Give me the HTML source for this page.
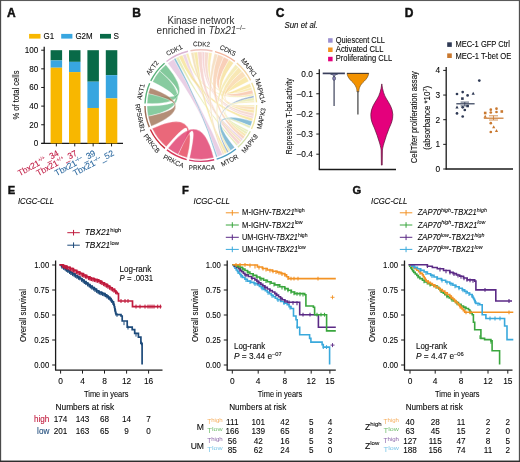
<!DOCTYPE html>
<html><head><meta charset="utf-8"><style>
html,body{margin:0;padding:0;background:#fff;overflow:hidden;width:520px;height:462px;}
svg{display:block;font-family:"Liberation Sans", sans-serif;will-change:transform;}
</style></head><body>
<svg width="520" height="462" viewBox="0 0 520 462">
<rect x="0" y="0" width="520" height="1.05" fill="#5a5a5a"/>
<rect x="0" y="0" width="1.15" height="462" fill="#4a4a4a"/>
<rect x="518.85" y="0" width="1.15" height="462" fill="#505050"/>
<rect x="0" y="460.55" width="520" height="1.45" fill="#2e2e2e"/>
<text x="6.90" y="16.60" font-size="12" fill="#111" font-weight="bold" stroke="#111" stroke-width="0.45">A</text>
<text x="132.20" y="16.60" font-size="12" fill="#111" font-weight="bold" stroke="#111" stroke-width="0.45">B</text>
<text x="275.80" y="16.60" font-size="12" fill="#111" font-weight="bold" stroke="#111" stroke-width="0.45">C</text>
<text x="404.70" y="16.60" font-size="12" fill="#111" font-weight="bold" stroke="#111" stroke-width="0.45">D</text>
<text x="7.70" y="194.00" font-size="11.2" fill="#111" font-weight="bold" stroke="#111" stroke-width="0.4">E</text>
<text x="181.90" y="194.00" font-size="11.2" fill="#111" font-weight="bold" stroke="#111" stroke-width="0.4">F</text>
<text x="352.60" y="194.00" font-size="11.2" fill="#111" font-weight="bold" stroke="#111" stroke-width="0.4">G</text>
<line x1="44.20" y1="46.70" x2="44.20" y2="143.90" stroke="#1a1a1a" stroke-width="1.3" />
<line x1="41.30" y1="143.40" x2="123.00" y2="143.40" stroke="#1a1a1a" stroke-width="1.3" />
<line x1="41.20" y1="143.40" x2="44.20" y2="143.40" stroke="#1a1a1a" stroke-width="1" />
<text x="38.30" y="146.40" font-size="8.4" text-anchor="end" stroke="#222" stroke-width="0.1" textLength="4.53" lengthAdjust="spacingAndGlyphs">0</text>
<line x1="41.20" y1="124.76" x2="44.20" y2="124.76" stroke="#1a1a1a" stroke-width="1" />
<text x="38.30" y="127.76" font-size="8.4" text-anchor="end" stroke="#222" stroke-width="0.1" textLength="9.06" lengthAdjust="spacingAndGlyphs">20</text>
<line x1="41.20" y1="106.12" x2="44.20" y2="106.12" stroke="#1a1a1a" stroke-width="1" />
<text x="38.30" y="109.12" font-size="8.4" text-anchor="end" stroke="#222" stroke-width="0.1" textLength="9.06" lengthAdjust="spacingAndGlyphs">40</text>
<line x1="41.20" y1="87.48" x2="44.20" y2="87.48" stroke="#1a1a1a" stroke-width="1" />
<text x="38.30" y="90.48" font-size="8.4" text-anchor="end" stroke="#222" stroke-width="0.1" textLength="9.06" lengthAdjust="spacingAndGlyphs">60</text>
<line x1="41.20" y1="68.84" x2="44.20" y2="68.84" stroke="#1a1a1a" stroke-width="1" />
<text x="38.30" y="71.84" font-size="8.4" text-anchor="end" stroke="#222" stroke-width="0.1" textLength="9.06" lengthAdjust="spacingAndGlyphs">80</text>
<line x1="41.20" y1="50.20" x2="44.20" y2="50.20" stroke="#1a1a1a" stroke-width="1" />
<text x="38.30" y="53.20" font-size="8.4" text-anchor="end" stroke="#222" stroke-width="0.1" textLength="13.59" lengthAdjust="spacingAndGlyphs">100</text>
<text x="19.00" y="95.00" font-size="9.8" text-anchor="middle" stroke="#222" stroke-width="0.1" textLength="49.00" lengthAdjust="spacingAndGlyphs" transform="rotate(-90 19.00 95.00)">% of total cells</text>
<rect x="50.60" y="50.20" width="11.50" height="10.25" fill="#096a48"/>
<rect x="50.60" y="60.45" width="11.50" height="7.27" fill="#38a6e0"/>
<rect x="50.60" y="67.72" width="11.50" height="75.68" fill="#f8b700"/>
<line x1="56.35" y1="143.40" x2="56.35" y2="146.40" stroke="#1a1a1a" stroke-width="1" />
<rect x="69.00" y="50.20" width="11.50" height="11.65" fill="#096a48"/>
<rect x="69.00" y="61.85" width="11.50" height="10.25" fill="#38a6e0"/>
<rect x="69.00" y="72.10" width="11.50" height="71.30" fill="#f8b700"/>
<line x1="74.75" y1="143.40" x2="74.75" y2="146.40" stroke="#1a1a1a" stroke-width="1" />
<rect x="87.40" y="50.20" width="11.50" height="31.50" fill="#096a48"/>
<rect x="87.40" y="81.70" width="11.50" height="26.28" fill="#38a6e0"/>
<rect x="87.40" y="107.98" width="11.50" height="35.42" fill="#f8b700"/>
<line x1="93.15" y1="143.40" x2="93.15" y2="146.40" stroke="#1a1a1a" stroke-width="1" />
<rect x="105.80" y="50.20" width="11.50" height="24.98" fill="#096a48"/>
<rect x="105.80" y="75.18" width="11.50" height="23.21" fill="#38a6e0"/>
<rect x="105.80" y="98.38" width="11.50" height="45.02" fill="#f8b700"/>
<line x1="111.55" y1="143.40" x2="111.55" y2="146.40" stroke="#1a1a1a" stroke-width="1" />
<rect x="29.10" y="33.90" width="11.40" height="4.70" fill="#f8b700"/>
<text x="43.60" y="38.90" font-size="8.2" stroke="#222" stroke-width="0.1" textLength="10.61" lengthAdjust="spacingAndGlyphs">G1</text>
<rect x="61.20" y="33.90" width="11.20" height="4.70" fill="#38a6e0"/>
<text x="75.40" y="38.90" font-size="8.2" stroke="#222" stroke-width="0.1" textLength="17.24" lengthAdjust="spacingAndGlyphs">G2M</text>
<rect x="100.00" y="33.90" width="11.00" height="4.70" fill="#096a48"/>
<text x="113.50" y="38.90" font-size="8.2" stroke="#222" stroke-width="0.1">S</text>
<text x="59.50" y="155.00" font-size="8.6" text-anchor="end" fill="#c3234a" stroke="#c3234a" stroke-width="0.1" textLength="45.00" lengthAdjust="spacingAndGlyphs" transform="rotate(-28 59.50 155.00)">Tbx21<tspan font-size="5.2" dy="-3.4">+/+</tspan><tspan dy="3.4">_34</tspan></text>
<text x="77.90" y="155.00" font-size="8.6" text-anchor="end" fill="#c3234a" stroke="#c3234a" stroke-width="0.1" textLength="45.00" lengthAdjust="spacingAndGlyphs" transform="rotate(-28 77.90 155.00)">Tbx21<tspan font-size="5.2" dy="-3.4">+/+</tspan><tspan dy="3.4">_37</tspan></text>
<text x="96.30" y="155.00" font-size="8.6" text-anchor="end" fill="#2e6aa0" stroke="#2e6aa0" stroke-width="0.1" textLength="45.00" lengthAdjust="spacingAndGlyphs" transform="rotate(-28 96.30 155.00)">Tbx21<tspan font-size="5.2" dy="-3.4">&#8211;/&#8211;</tspan><tspan dy="3.4">_39</tspan></text>
<text x="114.70" y="155.00" font-size="8.6" text-anchor="end" fill="#2e6aa0" stroke="#2e6aa0" stroke-width="0.1" textLength="45.00" lengthAdjust="spacingAndGlyphs" transform="rotate(-28 114.70 155.00)">Tbx21<tspan font-size="5.2" dy="-3.4">&#8211;/&#8211;</tspan><tspan dy="3.4">_52</tspan></text>
<text x="200.90" y="23.50" font-size="10.3" text-anchor="middle" fill="#303030" textLength="67.00" lengthAdjust="spacingAndGlyphs">Kinase network</text>
<text x="201.00" y="33.90" font-size="10" text-anchor="middle" fill="#303030" textLength="88.90" lengthAdjust="spacingAndGlyphs">enriched in <tspan font-style="italic">Tbx21</tspan><tspan font-size="6.5" dy="-3.8">&#8211;/&#8211;</tspan></text>
<path d="M167.75,63.15 A53.80,53.80 0 0 1 173.84,59.04 Q200.80,105.60 222.68,154.75 A53.80,53.80 0 0 1 217.57,156.72 Q200.80,105.60 167.75,63.15 Z" fill="#e0bcdb" fill-opacity="0.72" stroke="#fff" stroke-opacity="0.7" stroke-width="0.5"/>
<path d="M173.84,59.04 A53.80,53.80 0 0 1 175.68,58.03 Q200.80,105.60 217.57,156.72 A53.80,53.80 0 0 1 216.08,157.18 Q200.80,105.60 173.84,59.04 Z" fill="#5aa5c8" fill-opacity="0.72" stroke="#fff" stroke-opacity="0.7" stroke-width="0.5"/>
<path d="M182.39,55.05 A53.80,53.80 0 0 1 185.88,53.91 Q200.80,105.60 243.05,138.91 A53.80,53.80 0 0 1 241.59,140.68 Q200.80,105.60 182.39,55.05 Z" fill="#e6c6dc" fill-opacity="0.72" stroke="#fff" stroke-opacity="0.7" stroke-width="0.5"/>
<path d="M178.51,56.64 A53.80,53.80 0 0 1 182.39,55.05 Q200.80,105.60 253.07,118.34 A53.80,53.80 0 0 1 252.25,121.32 Q200.80,105.60 178.51,56.64 Z" fill="#f5df8a" fill-opacity="0.72" stroke="#fff" stroke-opacity="0.7" stroke-width="0.5"/>
<path d="M175.68,58.03 A53.80,53.80 0 0 1 178.51,56.64 Q200.80,105.60 237.97,144.50 A53.80,53.80 0 0 1 236.52,145.83 Q200.80,105.60 175.68,58.03 Z" fill="#dfe6a0" fill-opacity="0.72" stroke="#fff" stroke-opacity="0.7" stroke-width="0.5"/>
<path d="M185.88,53.91 A53.80,53.80 0 0 1 188.42,53.24 Q200.80,105.60 253.25,93.64 A53.80,53.80 0 0 1 253.69,95.73 Q200.80,105.60 185.88,53.91 Z" fill="#f3e39a" fill-opacity="0.72" stroke="#fff" stroke-opacity="0.7" stroke-width="0.5"/>
<path d="M197.42,51.91 A53.80,53.80 0 0 1 202.17,51.82 Q200.80,105.60 240.27,142.15 A53.80,53.80 0 0 1 237.97,144.50 Q200.80,105.60 197.42,51.91 Z" fill="#f2c6c2" fill-opacity="0.72" stroke="#fff" stroke-opacity="0.7" stroke-width="0.5"/>
<path d="M193.63,52.28 A53.80,53.80 0 0 1 197.42,51.91 Q200.80,105.60 227.22,152.46 A53.80,53.80 0 0 1 224.45,153.92 Q200.80,105.60 193.63,52.28 Z" fill="#f4e290" fill-opacity="0.72" stroke="#fff" stroke-opacity="0.7" stroke-width="0.5"/>
<path d="M204.55,51.93 A53.80,53.80 0 0 1 208.80,52.40 Q200.80,105.60 254.08,113.03 A53.80,53.80 0 0 1 253.49,116.45 Q200.80,105.60 204.55,51.93 Z" fill="#f3cdbf" fill-opacity="0.72" stroke="#fff" stroke-opacity="0.7" stroke-width="0.5"/>
<path d="M208.80,52.40 A53.80,53.80 0 0 1 212.08,53.00 Q200.80,105.60 251.32,87.10 A53.80,53.80 0 0 1 252.27,89.93 Q200.80,105.60 208.80,52.40 Z" fill="#f6e39a" fill-opacity="0.72" stroke="#fff" stroke-opacity="0.7" stroke-width="0.5"/>
<path d="M190.81,52.74 A53.80,53.80 0 0 1 193.63,52.28 Q200.80,105.60 241.59,140.68 A53.80,53.80 0 0 1 240.27,142.15 Q200.80,105.60 190.81,52.74 Z" fill="#f0d8a8" fill-opacity="0.72" stroke="#fff" stroke-opacity="0.7" stroke-width="0.5"/>
<path d="M202.17,51.82 A53.80,53.80 0 0 1 204.55,51.93 Q200.80,105.60 253.49,116.45 A53.80,53.80 0 0 1 253.07,118.34 Q200.80,105.60 202.17,51.82 Z" fill="#f1c3c8" fill-opacity="0.72" stroke="#fff" stroke-opacity="0.7" stroke-width="0.5"/>
<path d="M223.57,56.86 A53.80,53.80 0 0 1 229.06,59.82 Q200.80,105.60 252.27,89.93 A53.80,53.80 0 0 1 253.25,93.64 Q200.80,105.60 223.57,56.86 Z" fill="#f6bc9c" fill-opacity="0.72" stroke="#fff" stroke-opacity="0.7" stroke-width="0.5"/>
<path d="M229.06,59.82 A53.80,53.80 0 0 1 233.63,62.97 Q200.80,105.60 254.42,109.96 A53.80,53.80 0 0 1 254.08,113.03 Q200.80,105.60 229.06,59.82 Z" fill="#f5dc8e" fill-opacity="0.72" stroke="#fff" stroke-opacity="0.7" stroke-width="0.5"/>
<path d="M217.78,54.55 A53.80,53.80 0 0 1 223.57,56.86 Q200.80,105.60 244.82,136.54 A53.80,53.80 0 0 1 243.05,138.91 Q200.80,105.60 217.78,54.55 Z" fill="#f7c9a6" fill-opacity="0.72" stroke="#fff" stroke-opacity="0.7" stroke-width="0.5"/>
<path d="M214.45,53.56 A53.80,53.80 0 0 1 217.78,54.55 Q200.80,105.60 224.45,153.92 A53.80,53.80 0 0 1 222.68,154.75 Q200.80,105.60 214.45,53.56 Z" fill="#f2d6b0" fill-opacity="0.72" stroke="#fff" stroke-opacity="0.7" stroke-width="0.5"/>
<path d="M245.78,76.09 A53.80,53.80 0 0 1 248.82,81.34 Q200.80,105.60 249.87,83.55 A53.80,53.80 0 0 1 251.32,87.10 Q200.80,105.60 245.78,76.09 Z" fill="#f6e08e" fill-opacity="0.72" stroke="#fff" stroke-opacity="0.7" stroke-width="0.5"/>
<path d="M242.17,71.21 A53.80,53.80 0 0 1 245.78,76.09 Q200.80,105.60 254.59,106.49 A53.80,53.80 0 0 1 254.42,109.96 Q200.80,105.60 242.17,71.21 Z" fill="#f8d3a0" fill-opacity="0.72" stroke="#fff" stroke-opacity="0.7" stroke-width="0.5"/>
<path d="M238.52,67.24 A53.80,53.80 0 0 1 242.17,71.21 Q200.80,105.60 246.28,134.35 A53.80,53.80 0 0 1 244.82,136.54 Q200.80,105.60 238.52,67.24 Z" fill="#f5df98" fill-opacity="0.72" stroke="#fff" stroke-opacity="0.7" stroke-width="0.5"/>
<path d="M235.53,64.51 A53.80,53.80 0 0 1 238.52,67.24 Q200.80,105.60 230.56,150.42 A53.80,53.80 0 0 1 228.58,151.68 Q200.80,105.60 235.53,64.51 Z" fill="#f3e6a0" fill-opacity="0.72" stroke="#fff" stroke-opacity="0.7" stroke-width="0.5"/>
<path d="M253.97,97.41 A53.80,53.80 0 0 1 254.39,100.80 Q200.80,105.60 247.63,132.09 A53.80,53.80 0 0 1 246.28,134.35 Q200.80,105.60 253.97,97.41 Z" fill="#e4e8a2" fill-opacity="0.72" stroke="#fff" stroke-opacity="0.7" stroke-width="0.5"/>
<path d="M253.69,95.73 A53.80,53.80 0 0 1 253.97,97.41 Q200.80,105.60 228.58,151.68 A53.80,53.80 0 0 1 227.22,152.46 Q200.80,105.60 253.69,95.73 Z" fill="#6a8fb8" fill-opacity="0.72" stroke="#fff" stroke-opacity="0.7" stroke-width="0.5"/>
<path d="M252.25,121.32 A53.80,53.80 0 0 1 250.56,126.04 Q200.80,105.60 234.66,147.41 A53.80,53.80 0 0 1 230.56,150.42 Q200.80,105.60 252.25,121.32 Z" fill="#5aa5c8" fill-opacity="0.72" stroke="#fff" stroke-opacity="0.7" stroke-width="0.5"/>
<path d="M250.56,126.04 A53.80,53.80 0 0 1 249.64,128.17 Q200.80,105.60 248.56,130.36 A53.80,53.80 0 0 1 247.63,132.09 Q200.80,105.60 250.56,126.04 Z" fill="#dfe8a8" fill-opacity="0.72" stroke="#fff" stroke-opacity="0.7" stroke-width="0.5"/>
<path d="M254.39,100.80 A53.80,53.80 0 0 1 254.51,102.50 Q200.80,105.60 254.60,104.94 A53.80,53.80 0 0 1 254.59,106.49 Q200.80,105.60 254.39,100.80 Z" fill="#f2e6a4" fill-opacity="0.72" stroke="#fff" stroke-opacity="0.7" stroke-width="0.5"/>
<path d="M152.57,81.76 A53.80,53.80 0 0 1 159.72,70.86 Q200.80,105.60 148.09,116.37 A53.80,53.80 0 0 1 147.00,105.98 Q200.80,105.60 152.57,81.76 Z" fill="#73c28f" fill-opacity="0.85" stroke="#fff" stroke-opacity="0.7" stroke-width="0.5"/>
<path d="M159.72,70.86 A53.80,53.80 0 0 1 165.86,64.69 Q200.80,105.60 147.04,103.53 A53.80,53.80 0 0 1 148.37,93.54 Q200.80,105.60 159.72,70.86 Z" fill="#6dbf8b" fill-opacity="0.85" stroke="#fff" stroke-opacity="0.7" stroke-width="0.5"/>
<path d="M151.17,126.36 A53.80,53.80 0 0 1 148.09,116.37 Q200.80,105.60 148.37,93.54 A53.80,53.80 0 0 1 150.05,87.73 Q200.80,105.60 151.17,126.36 Z" fill="#a67a5f" fill-opacity="0.85" stroke="#fff" stroke-opacity="0.7" stroke-width="0.5"/>
<path d="M166.22,146.81 A53.80,53.80 0 0 1 152.16,128.59 Q200.80,105.60 187.15,157.64 A53.80,53.80 0 0 1 178.14,154.39 Q200.80,105.60 166.22,146.81 Z" fill="#e8586b" fill-opacity="0.9" stroke="#fff" stroke-opacity="0.7" stroke-width="0.5"/>
<path d="M178.14,154.39 A53.80,53.80 0 0 1 168.12,148.34 Q200.80,105.60 213.72,157.82 A53.80,53.80 0 0 1 189.52,158.20 Q200.80,105.60 178.14,154.39 Z" fill="#e34b78" fill-opacity="0.88" stroke="#fff" stroke-opacity="0.7" stroke-width="0.5"/>
<path d="M166.52,61.57 A55.8,55.8 0 0 1 187.96,51.30" fill="none" stroke="#dcb5d3" stroke-width="1.4"/>
<path d="M190.44,50.77 A55.8,55.8 0 0 1 212.50,51.04" fill="none" stroke="#efc3bd" stroke-width="1.4"/>
<path d="M214.96,51.63 A55.8,55.8 0 0 1 234.85,61.39" fill="none" stroke="#f3b79e" stroke-width="1.4"/>
<path d="M236.82,62.98 A55.8,55.8 0 0 1 250.61,80.44" fill="none" stroke="#f3d5a5" stroke-width="1.4"/>
<path d="M251.70,82.73 A55.8,55.8 0 0 1 256.51,102.39" fill="none" stroke="#efe1a0" stroke-width="1.4"/>
<path d="M256.60,104.92 A55.8,55.8 0 0 1 251.45,129.01" fill="none" stroke="#efe6a5" stroke-width="1.4"/>
<path d="M250.34,131.28 A55.8,55.8 0 0 1 237.85,147.33" fill="none" stroke="#d5e2ad" stroke-width="1.4"/>
<path d="M235.92,148.96 A55.8,55.8 0 0 1 216.65,159.10" fill="none" stroke="#4f9fc2" stroke-width="1.4"/>
<path d="M214.20,159.77 A55.8,55.8 0 0 1 189.10,160.16" fill="none" stroke="#d23e6c" stroke-width="1.4"/>
<path d="M186.64,159.57 A55.8,55.8 0 0 1 166.91,149.93" fill="none" stroke="#d8385a" stroke-width="1.4"/>
<path d="M164.93,148.35 A55.8,55.8 0 0 1 150.35,129.45" fill="none" stroke="#c8303f" stroke-width="1.4"/>
<path d="M149.32,127.13 A55.8,55.8 0 0 1 145.00,105.99" fill="none" stroke="#9c6e57" stroke-width="1.4"/>
<path d="M145.04,103.46 A55.8,55.8 0 0 1 149.71,83.17" fill="none" stroke="#5bb27c" stroke-width="1.4"/>
<path d="M150.78,80.88 A55.8,55.8 0 0 1 164.56,63.17" fill="none" stroke="#5bb27c" stroke-width="1.4"/>
<text x="175.22" y="52.21" font-size="6.7" text-anchor="middle" fill="#2a2a2a" stroke="#2a2a2a" stroke-width="0.1" textLength="16.98" lengthAdjust="spacingAndGlyphs" transform="rotate(-25.600000000000023 175.22 52.21)">CDK1</text>
<text x="201.52" y="46.40" font-size="6.7" text-anchor="middle" fill="#2a2a2a" stroke="#2a2a2a" stroke-width="0.1" textLength="16.98" lengthAdjust="spacingAndGlyphs" transform="rotate(0.6999999999999886 201.52 46.40)">CDK2</text>
<text x="226.89" y="52.46" font-size="6.7" text-anchor="middle" fill="#2a2a2a" stroke="#2a2a2a" stroke-width="0.1" textLength="16.98" lengthAdjust="spacingAndGlyphs" transform="rotate(26.149999999999977 226.89 52.46)">CDK5</text>
<text x="247.26" y="68.91" font-size="6.7" text-anchor="middle" fill="#2a2a2a" stroke="#2a2a2a" stroke-width="0.1" textLength="21.58" lengthAdjust="spacingAndGlyphs" transform="rotate(51.69999999999999 247.26 68.91)">MAPK1</text>
<text x="258.30" y="91.53" font-size="6.7" text-anchor="middle" fill="#2a2a2a" stroke="#2a2a2a" stroke-width="0.1" textLength="25.12" lengthAdjust="spacingAndGlyphs" transform="rotate(76.25 258.30 91.53)">MAPK14</text>
<text x="263.59" y="119.00" font-size="6.7" text-anchor="middle" fill="#2a2a2a" stroke="#2a2a2a" stroke-width="0.1" textLength="21.58" lengthAdjust="spacingAndGlyphs" transform="rotate(-77.94999999999999 263.59 119.00)">MAPK3</text>
<text x="251.46" y="145.04" font-size="6.7" text-anchor="middle" fill="#2a2a2a" stroke="#2a2a2a" stroke-width="0.1" textLength="21.58" lengthAdjust="spacingAndGlyphs" transform="rotate(-52.10000000000002 251.46 145.04)">MAPK8</text>
<text x="230.69" y="162.42" font-size="6.7" text-anchor="middle" fill="#2a2a2a" stroke="#2a2a2a" stroke-width="0.1" textLength="18.62" lengthAdjust="spacingAndGlyphs" transform="rotate(-27.75 230.69 162.42)">MTOR</text>
<text x="201.81" y="169.79" font-size="6.7" text-anchor="middle" fill="#2a2a2a" stroke="#2a2a2a" stroke-width="0.1" textLength="26.18" lengthAdjust="spacingAndGlyphs" transform="rotate(-0.900000000000091 201.81 169.79)">PRKACA</text>
<text x="172.61" y="163.28" font-size="6.7" text-anchor="middle" fill="#2a2a2a" stroke="#2a2a2a" stroke-width="0.1" textLength="21.93" lengthAdjust="spacingAndGlyphs" transform="rotate(26.049999999999955 172.61 163.28)">PRKCA</text>
<text x="149.97" y="144.82" font-size="6.7" text-anchor="middle" fill="#2a2a2a" stroke="#2a2a2a" stroke-width="0.1" textLength="21.93" lengthAdjust="spacingAndGlyphs" transform="rotate(52.35000000000002 149.97 144.82)">PRKCB</text>
<text x="137.90" y="118.45" font-size="6.7" text-anchor="middle" fill="#2a2a2a" stroke="#2a2a2a" stroke-width="0.1" textLength="28.66" lengthAdjust="spacingAndGlyphs" transform="rotate(78.45000000000005 137.90 118.45)">RPS6KB1</text>
<text x="143.11" y="92.33" font-size="6.7" text-anchor="middle" fill="#2a2a2a" stroke="#2a2a2a" stroke-width="0.1" textLength="15.92" lengthAdjust="spacingAndGlyphs" transform="rotate(-77.04999999999995 143.11 92.33)">AKT1</text>
<text x="154.09" y="69.23" font-size="6.7" text-anchor="middle" fill="#2a2a2a" stroke="#2a2a2a" stroke-width="0.1" textLength="15.92" lengthAdjust="spacingAndGlyphs" transform="rotate(-52.10000000000002 154.09 69.23)">AKT2</text>
<text x="284.50" y="28.00" font-size="8.2" stroke="#222" stroke-width="0.1" font-style="italic" textLength="33.20" lengthAdjust="spacingAndGlyphs">Sun et al.</text>
<rect x="328.10" y="38.20" width="4.50" height="4.50" fill="#9b8fcf"/>
<text x="335.80" y="42.70" font-size="8.2" stroke="#222" stroke-width="0.1" textLength="49.20" lengthAdjust="spacingAndGlyphs">Quiescent CLL</text>
<rect x="328.10" y="47.50" width="4.50" height="4.50" fill="#f39320"/>
<text x="335.80" y="52.00" font-size="8.2" stroke="#222" stroke-width="0.1" textLength="47.70" lengthAdjust="spacingAndGlyphs">Activated CLL</text>
<rect x="328.10" y="56.80" width="4.50" height="4.50" fill="#e4007c"/>
<text x="335.80" y="61.30" font-size="8.2" stroke="#222" stroke-width="0.1" textLength="56.30" lengthAdjust="spacingAndGlyphs">Proliferating CLL</text>
<line x1="319.30" y1="69.20" x2="319.30" y2="169.50" stroke="#1a1a1a" stroke-width="1.3" />
<line x1="318.80" y1="169.50" x2="396.00" y2="169.50" stroke="#1a1a1a" stroke-width="1.3" />
<line x1="316.30" y1="73.60" x2="319.30" y2="73.60" stroke="#1a1a1a" stroke-width="1" />
<text x="312.90" y="76.60" font-size="8.3" text-anchor="end" stroke="#222" stroke-width="0.1">0.0</text>
<line x1="316.30" y1="93.75" x2="319.30" y2="93.75" stroke="#1a1a1a" stroke-width="1" />
<text x="312.90" y="96.75" font-size="8.3" text-anchor="end" stroke="#222" stroke-width="0.1">&#8211;0.1</text>
<line x1="316.30" y1="113.90" x2="319.30" y2="113.90" stroke="#1a1a1a" stroke-width="1" />
<text x="312.90" y="116.90" font-size="8.3" text-anchor="end" stroke="#222" stroke-width="0.1">&#8211;0.2</text>
<line x1="316.30" y1="134.05" x2="319.30" y2="134.05" stroke="#1a1a1a" stroke-width="1" />
<text x="312.90" y="137.05" font-size="8.3" text-anchor="end" stroke="#222" stroke-width="0.1">&#8211;0.3</text>
<line x1="316.30" y1="154.20" x2="319.30" y2="154.20" stroke="#1a1a1a" stroke-width="1" />
<text x="312.90" y="157.20" font-size="8.3" text-anchor="end" stroke="#222" stroke-width="0.1">&#8211;0.4</text>
<text x="292.20" y="116.30" font-size="8.3" text-anchor="middle" stroke="#222" stroke-width="0.1" textLength="76.00" lengthAdjust="spacingAndGlyphs" transform="rotate(-90 292.20 116.30)">Repressive T-bet activity</text>
<path d="M322.7,73.4 L344.9,73.4" fill="none" stroke="#3a3f5c" stroke-width="1.7" />
<path d="M330.5,74 Q334.1,74.6 334.1,77 Q334.1,74.6 337.7,74 Z" fill="#8c84b8" stroke="#3d4560" stroke-width="0.7" />
<path d="M334.1,76 L334.1,105.9" fill="none" stroke="#585c72" stroke-width="1.4" />
<ellipse cx="334.1" cy="78.4" rx="1.4" ry="2.0" fill="#8c84b8" stroke="#3d4560" stroke-width="0.7"/>
<path d="M347,73.4 L368.7,73.4 C368.3,76.5 366.5,79 364.4,81 C362.3,83 360.5,85 359.6,87.5 C359.1,89 358.9,90 358.8,92 L357.0,92 C356.9,90 356.7,89 356.2,87.5 C355.3,85 353.5,83 351.4,81 C349.3,79 347.4,76.5 347,73.4 Z" fill="#f39200" stroke="#6a4a20" stroke-width="0.6" />
<path d="M347,73.4 L368.7,73.4" fill="none" stroke="#4a3a2a" stroke-width="1.0" />
<path d="M357.9,91 L357.9,114.5" fill="none" stroke="#5a5a5a" stroke-width="1.4" />
<path d="M381.8,83.9 C382.5,90 384,95 386.5,99 C389,103 392.5,108 392.8,114.4 C393,120 391,124 389.2,128 C387.2,133 385.5,138 384,143 C383,146.5 382.6,148.5 382.4,150 L382.2,165.1 L381.4,165.1 L381.2,150 C381,148.5 380.6,146.5 379.6,143 C378.1,138 376.4,133 374.4,128 C372.6,124 370.6,120 370.8,114.4 C371.1,108 374.6,103 377.1,99 C379.6,95 381.1,90 381.8,83.9 Z" fill="#e4007c" stroke="#5a1035" stroke-width="0.7" />
<rect x="447.20" y="42.30" width="4.60" height="4.60" fill="#2f3a55"/>
<text x="455.40" y="47.40" font-size="8.2" stroke="#222" stroke-width="0.1" textLength="54.60" lengthAdjust="spacingAndGlyphs">MEC-1 GFP Ctrl</text>
<rect x="447.20" y="53.40" width="4.60" height="4.60" fill="#c9782f"/>
<text x="455.40" y="58.50" font-size="8.2" stroke="#222" stroke-width="0.1" textLength="55.80" lengthAdjust="spacingAndGlyphs">MEC-1 T-bet OE</text>
<line x1="446.20" y1="67.00" x2="446.20" y2="169.50" stroke="#1a1a1a" stroke-width="1.3" />
<line x1="445.70" y1="169.00" x2="513.00" y2="169.00" stroke="#1a1a1a" stroke-width="1.3" />
<line x1="443.20" y1="169.00" x2="446.20" y2="169.00" stroke="#1a1a1a" stroke-width="1" />
<text x="440.20" y="172.00" font-size="8.3" text-anchor="end" stroke="#222" stroke-width="0.1">0</text>
<line x1="443.20" y1="144.35" x2="446.20" y2="144.35" stroke="#1a1a1a" stroke-width="1" />
<text x="440.20" y="147.35" font-size="8.3" text-anchor="end" stroke="#222" stroke-width="0.1">1</text>
<line x1="443.20" y1="119.70" x2="446.20" y2="119.70" stroke="#1a1a1a" stroke-width="1" />
<text x="440.20" y="122.70" font-size="8.3" text-anchor="end" stroke="#222" stroke-width="0.1">2</text>
<line x1="443.20" y1="95.05" x2="446.20" y2="95.05" stroke="#1a1a1a" stroke-width="1" />
<text x="440.20" y="98.05" font-size="8.3" text-anchor="end" stroke="#222" stroke-width="0.1">3</text>
<line x1="443.20" y1="70.40" x2="446.20" y2="70.40" stroke="#1a1a1a" stroke-width="1" />
<text x="440.20" y="73.40" font-size="8.3" text-anchor="end" stroke="#222" stroke-width="0.1">4</text>
<text x="416.60" y="117.30" font-size="8.3" text-anchor="middle" stroke="#222" stroke-width="0.1" textLength="92.00" lengthAdjust="spacingAndGlyphs" transform="rotate(-90 416.60 117.30)">CellTiter proliferation assay</text>
<text x="430.00" y="117.80" font-size="8.3" text-anchor="middle" stroke="#222" stroke-width="0.1" textLength="64.00" lengthAdjust="spacingAndGlyphs" transform="rotate(-90 430.00 117.80)">(absorbance *10<tspan font-size="5.8" dy="-3.2">7</tspan><tspan dy="3.2">)</tspan></text>
<circle cx="479.3" cy="80.6" r="1.35" fill="#2f3a55"/>
<circle cx="457" cy="94" r="1.35" fill="#2f3a55"/>
<circle cx="462.7" cy="92.1" r="1.35" fill="#2f3a55"/>
<circle cx="467.6" cy="95.4" r="1.35" fill="#2f3a55"/>
<path d="M473.2,91.8 L474.8,94.7 L471.59999999999997,94.7 Z" fill="#2f3a55"/>
<rect x="461.09999999999997" y="97.3" width="2.6" height="2.6" fill="#2f3a55"/>
<path d="M457,105.6 L458.6,108.5 L455.4,108.5 Z" fill="#2f3a55"/>
<circle cx="462.7" cy="107.3" r="1.35" fill="#2f3a55"/>
<rect x="466.3" y="104.7" width="2.6" height="2.6" fill="#2f3a55"/>
<circle cx="464.8" cy="110" r="1.35" fill="#2f3a55"/>
<circle cx="457" cy="113.4" r="1.35" fill="#2f3a55"/>
<circle cx="462.7" cy="116.5" r="1.35" fill="#2f3a55"/>
<line x1="456.30" y1="103.80" x2="474.60" y2="103.80" stroke="#2f3a55" stroke-width="1.2" />
<line x1="460.60" y1="102.10" x2="469.00" y2="102.10" stroke="#2f3a55" stroke-width="0.8" />
<line x1="460.60" y1="105.90" x2="469.00" y2="105.90" stroke="#2f3a55" stroke-width="0.8" />
<line x1="464.80" y1="102.10" x2="464.80" y2="105.90" stroke="#2f3a55" stroke-width="0.8" />
<circle cx="490.8" cy="109.7" r="1.35" fill="#c9782f"/>
<circle cx="496.5" cy="108.7" r="1.35" fill="#c9782f"/>
<rect x="483.9" y="111.7" width="2.6" height="2.6" fill="#c9782f"/>
<circle cx="490.8" cy="112.5" r="1.35" fill="#c9782f"/>
<circle cx="496.5" cy="112" r="1.35" fill="#c9782f"/>
<rect x="500.5" y="110.2" width="2.6" height="2.6" fill="#c9782f"/>
<path d="M485.2,114.8 L486.8,117.7 L483.59999999999997,117.7 Z" fill="#c9782f"/>
<circle cx="490.8" cy="123.2" r="1.35" fill="#c9782f"/>
<path d="M493.7,125.3 L495.3,128.2 L492.09999999999997,128.2 Z" fill="#c9782f"/>
<circle cx="490.8" cy="132" r="1.35" fill="#c9782f"/>
<path d="M496.5,129.10000000000002 L498.1,132.0 L494.9,132.0 Z" fill="#c9782f"/>
<line x1="483.80" y1="118.20" x2="503.50" y2="118.20" stroke="#c9782f" stroke-width="1.2" />
<line x1="489.00" y1="115.80" x2="498.00" y2="115.80" stroke="#c9782f" stroke-width="0.8" />
<line x1="489.00" y1="120.00" x2="498.00" y2="120.00" stroke="#c9782f" stroke-width="0.8" />
<line x1="493.50" y1="115.80" x2="493.50" y2="120.00" stroke="#c9782f" stroke-width="0.8" />
<text x="17.90" y="203.90" font-size="8.2" stroke="#222" stroke-width="0.1" font-style="italic" textLength="36.30" lengthAdjust="spacingAndGlyphs">ICGC-CLL</text>
<line x1="67.30" y1="232.70" x2="79.80" y2="232.70" stroke="#c01b3d" stroke-width="1.0" />
<line x1="73.55" y1="229.90" x2="73.55" y2="235.50" stroke="#c01b3d" stroke-width="1.0" />
<text x="84.80" y="235.30" font-size="8.3" stroke="#222" stroke-width="0.1"><tspan font-style="italic">TBX21</tspan><tspan font-size="5.8" dy="-3.2">high</tspan></text>
<line x1="67.30" y1="245.20" x2="79.80" y2="245.20" stroke="#1d4a7a" stroke-width="1.0" />
<line x1="73.55" y1="242.40" x2="73.55" y2="248.00" stroke="#1d4a7a" stroke-width="1.0" />
<text x="84.80" y="247.80" font-size="8.3" stroke="#222" stroke-width="0.1"><tspan font-style="italic">TBX21</tspan><tspan font-size="5.8" dy="-3.2">low</tspan></text>
<line x1="55.60" y1="260.50" x2="55.60" y2="370.20" stroke="#1a1a1a" stroke-width="1.3" />
<line x1="55.10" y1="370.20" x2="162.50" y2="370.20" stroke="#1a1a1a" stroke-width="1.3" />
<line x1="52.20" y1="265.00" x2="55.60" y2="265.00" stroke="#1a1a1a" stroke-width="1" />
<text x="49.20" y="268.00" font-size="8.4" text-anchor="end" stroke="#222" stroke-width="0.1" textLength="15.00" lengthAdjust="spacingAndGlyphs">1.00</text>
<line x1="52.20" y1="290.00" x2="55.60" y2="290.00" stroke="#1a1a1a" stroke-width="1" />
<text x="49.20" y="293.00" font-size="8.4" text-anchor="end" stroke="#222" stroke-width="0.1" textLength="15.00" lengthAdjust="spacingAndGlyphs">0.75</text>
<line x1="52.20" y1="315.00" x2="55.60" y2="315.00" stroke="#1a1a1a" stroke-width="1" />
<text x="49.20" y="318.00" font-size="8.4" text-anchor="end" stroke="#222" stroke-width="0.1" textLength="15.00" lengthAdjust="spacingAndGlyphs">0.50</text>
<line x1="52.20" y1="340.00" x2="55.60" y2="340.00" stroke="#1a1a1a" stroke-width="1" />
<text x="49.20" y="343.00" font-size="8.4" text-anchor="end" stroke="#222" stroke-width="0.1" textLength="15.00" lengthAdjust="spacingAndGlyphs">0.25</text>
<line x1="52.20" y1="365.00" x2="55.60" y2="365.00" stroke="#1a1a1a" stroke-width="1" />
<text x="49.20" y="368.00" font-size="8.4" text-anchor="end" stroke="#222" stroke-width="0.1" textLength="15.00" lengthAdjust="spacingAndGlyphs">0.00</text>
<line x1="60.60" y1="370.20" x2="60.60" y2="373.60" stroke="#1a1a1a" stroke-width="1" />
<text x="60.60" y="383.50" font-size="8.4" text-anchor="middle" stroke="#222" stroke-width="0.1">0</text>
<line x1="82.50" y1="370.20" x2="82.50" y2="373.60" stroke="#1a1a1a" stroke-width="1" />
<text x="82.50" y="383.50" font-size="8.4" text-anchor="middle" stroke="#222" stroke-width="0.1">4</text>
<line x1="104.50" y1="370.20" x2="104.50" y2="373.60" stroke="#1a1a1a" stroke-width="1" />
<text x="104.50" y="383.50" font-size="8.4" text-anchor="middle" stroke="#222" stroke-width="0.1">8</text>
<line x1="126.60" y1="370.20" x2="126.60" y2="373.60" stroke="#1a1a1a" stroke-width="1" />
<text x="126.60" y="383.50" font-size="8.4" text-anchor="middle" stroke="#222" stroke-width="0.1">12</text>
<line x1="148.60" y1="370.20" x2="148.60" y2="373.60" stroke="#1a1a1a" stroke-width="1" />
<text x="148.60" y="383.50" font-size="8.4" text-anchor="middle" stroke="#222" stroke-width="0.1">16</text>
<text x="26.50" y="315.60" font-size="8.4" text-anchor="middle" stroke="#222" stroke-width="0.1" textLength="53.00" lengthAdjust="spacingAndGlyphs" transform="rotate(-90 26.50 315.60)">Overall survival</text>
<text x="119.60" y="271.50" font-size="8.3" stroke="#222" stroke-width="0.1" textLength="31.70" lengthAdjust="spacingAndGlyphs">Log-rank</text>
<text x="119.60" y="280.80" font-size="8.6" stroke="#222" stroke-width="0.1" textLength="33.50" lengthAdjust="spacingAndGlyphs"><tspan font-style="italic">P</tspan> = .0031</text>
<path d="M59.50,264.80 H61.60 V266.32 H63.70 V267.84 H65.80 V269.36 H67.90 V270.88 H70.00 V272.40 H72.50 V273.95 H75.00 V275.50 H77.50 V277.05 H80.00 V278.60 H81.98 V280.10 H83.96 V281.60 H85.94 V283.10 H87.92 V284.60 H89.90 V286.10 H92.08 V287.65 H94.25 V289.20 H96.42 V290.75 H98.60 V292.30 H101.70 V293.55 H104.80 V294.80 H106.47 V296.07 H108.13 V297.33 H109.80 V298.60 H111.03 V300.23 H112.27 V301.87 H113.50 V303.50 H113.90 V305.17 H114.30 V306.83 H114.70 V308.50 H115.03 V310.05 H115.35 V311.60 H115.67 V313.15 H116.00 V314.70 H121.00 V316.00 H122.20 V321.00 H127.20 V327.20 H132.20 V329.70 H134.70 V333.40 H138.40 V337.10 H140.90 V343.40 L142.10,343.40 L142.10,364.50" fill="none" stroke="#1d4a7a" stroke-width="1.7" stroke-linejoin="miter"/>
<line x1="62.00" y1="264.71" x2="62.00" y2="268.51" stroke="#1d4a7a" stroke-width="1.0" />
<line x1="63.50" y1="265.80" x2="63.50" y2="269.60" stroke="#1d4a7a" stroke-width="1.0" />
<line x1="65.00" y1="266.88" x2="65.00" y2="270.68" stroke="#1d4a7a" stroke-width="1.0" />
<line x1="66.50" y1="267.97" x2="66.50" y2="271.77" stroke="#1d4a7a" stroke-width="1.0" />
<line x1="68.00" y1="269.05" x2="68.00" y2="272.85" stroke="#1d4a7a" stroke-width="1.0" />
<line x1="69.50" y1="270.14" x2="69.50" y2="273.94" stroke="#1d4a7a" stroke-width="1.0" />
<line x1="71.00" y1="271.12" x2="71.00" y2="274.92" stroke="#1d4a7a" stroke-width="1.0" />
<line x1="72.50" y1="272.05" x2="72.50" y2="275.85" stroke="#1d4a7a" stroke-width="1.0" />
<line x1="74.00" y1="272.98" x2="74.00" y2="276.78" stroke="#1d4a7a" stroke-width="1.0" />
<line x1="75.50" y1="273.91" x2="75.50" y2="277.71" stroke="#1d4a7a" stroke-width="1.0" />
<line x1="77.00" y1="274.84" x2="77.00" y2="278.64" stroke="#1d4a7a" stroke-width="1.0" />
<line x1="78.50" y1="275.77" x2="78.50" y2="279.57" stroke="#1d4a7a" stroke-width="1.0" />
<line x1="80.00" y1="276.70" x2="80.00" y2="280.50" stroke="#1d4a7a" stroke-width="1.0" />
<line x1="81.50" y1="277.84" x2="81.50" y2="281.64" stroke="#1d4a7a" stroke-width="1.0" />
<line x1="83.00" y1="278.97" x2="83.00" y2="282.77" stroke="#1d4a7a" stroke-width="1.0" />
<line x1="84.50" y1="280.11" x2="84.50" y2="283.91" stroke="#1d4a7a" stroke-width="1.0" />
<line x1="86.00" y1="281.25" x2="86.00" y2="285.05" stroke="#1d4a7a" stroke-width="1.0" />
<line x1="87.50" y1="282.38" x2="87.50" y2="286.18" stroke="#1d4a7a" stroke-width="1.0" />
<line x1="89.00" y1="283.52" x2="89.00" y2="287.32" stroke="#1d4a7a" stroke-width="1.0" />
<line x1="90.50" y1="284.63" x2="90.50" y2="288.43" stroke="#1d4a7a" stroke-width="1.0" />
<line x1="92.00" y1="285.70" x2="92.00" y2="289.50" stroke="#1d4a7a" stroke-width="1.0" />
<line x1="93.50" y1="286.77" x2="93.50" y2="290.57" stroke="#1d4a7a" stroke-width="1.0" />
<line x1="95.00" y1="287.83" x2="95.00" y2="291.63" stroke="#1d4a7a" stroke-width="1.0" />
<line x1="96.50" y1="288.90" x2="96.50" y2="292.70" stroke="#1d4a7a" stroke-width="1.0" />
<line x1="98.00" y1="289.97" x2="98.00" y2="293.77" stroke="#1d4a7a" stroke-width="1.0" />
<line x1="99.50" y1="290.76" x2="99.50" y2="294.56" stroke="#1d4a7a" stroke-width="1.0" />
<line x1="101.00" y1="291.37" x2="101.00" y2="295.17" stroke="#1d4a7a" stroke-width="1.0" />
<line x1="102.50" y1="291.97" x2="102.50" y2="295.77" stroke="#1d4a7a" stroke-width="1.0" />
<line x1="104.00" y1="292.58" x2="104.00" y2="296.38" stroke="#1d4a7a" stroke-width="1.0" />
<line x1="105.50" y1="293.43" x2="105.50" y2="297.23" stroke="#1d4a7a" stroke-width="1.0" />
<line x1="107.00" y1="294.57" x2="107.00" y2="298.37" stroke="#1d4a7a" stroke-width="1.0" />
<line x1="108.50" y1="295.71" x2="108.50" y2="299.51" stroke="#1d4a7a" stroke-width="1.0" />
<line x1="110.00" y1="296.96" x2="110.00" y2="300.76" stroke="#1d4a7a" stroke-width="1.0" />
<line x1="111.50" y1="298.95" x2="111.50" y2="302.75" stroke="#1d4a7a" stroke-width="1.0" />
<line x1="113.00" y1="300.94" x2="113.00" y2="304.74" stroke="#1d4a7a" stroke-width="1.0" />
<line x1="114.50" y1="305.77" x2="114.50" y2="309.57" stroke="#1d4a7a" stroke-width="1.0" />
<line x1="62.00" y1="264.71" x2="62.00" y2="268.51" stroke="#1d4a7a" stroke-width="1.0" />
<line x1="64.00" y1="266.16" x2="64.00" y2="269.96" stroke="#1d4a7a" stroke-width="1.0" />
<line x1="66.00" y1="267.60" x2="66.00" y2="271.40" stroke="#1d4a7a" stroke-width="1.0" />
<line x1="68.00" y1="269.05" x2="68.00" y2="272.85" stroke="#1d4a7a" stroke-width="1.0" />
<line x1="71.00" y1="271.12" x2="71.00" y2="274.92" stroke="#1d4a7a" stroke-width="1.0" />
<line x1="73.00" y1="272.36" x2="73.00" y2="276.16" stroke="#1d4a7a" stroke-width="1.0" />
<line x1="75.00" y1="273.60" x2="75.00" y2="277.40" stroke="#1d4a7a" stroke-width="1.0" />
<line x1="77.00" y1="274.84" x2="77.00" y2="278.64" stroke="#1d4a7a" stroke-width="1.0" />
<line x1="79.00" y1="276.08" x2="79.00" y2="279.88" stroke="#1d4a7a" stroke-width="1.0" />
<line x1="82.00" y1="278.22" x2="82.00" y2="282.02" stroke="#1d4a7a" stroke-width="1.0" />
<line x1="84.00" y1="279.73" x2="84.00" y2="283.53" stroke="#1d4a7a" stroke-width="1.0" />
<line x1="86.00" y1="281.25" x2="86.00" y2="285.05" stroke="#1d4a7a" stroke-width="1.0" />
<line x1="88.00" y1="282.76" x2="88.00" y2="286.56" stroke="#1d4a7a" stroke-width="1.0" />
<line x1="90.00" y1="284.27" x2="90.00" y2="288.07" stroke="#1d4a7a" stroke-width="1.0" />
<line x1="92.00" y1="285.70" x2="92.00" y2="289.50" stroke="#1d4a7a" stroke-width="1.0" />
<line x1="95.00" y1="287.83" x2="95.00" y2="291.63" stroke="#1d4a7a" stroke-width="1.0" />
<line x1="97.00" y1="289.26" x2="97.00" y2="293.06" stroke="#1d4a7a" stroke-width="1.0" />
<line x1="99.00" y1="290.56" x2="99.00" y2="294.36" stroke="#1d4a7a" stroke-width="1.0" />
<line x1="101.00" y1="291.37" x2="101.00" y2="295.17" stroke="#1d4a7a" stroke-width="1.0" />
<line x1="103.00" y1="292.17" x2="103.00" y2="295.97" stroke="#1d4a7a" stroke-width="1.0" />
<line x1="105.00" y1="293.05" x2="105.00" y2="296.85" stroke="#1d4a7a" stroke-width="1.0" />
<line x1="107.00" y1="294.57" x2="107.00" y2="298.37" stroke="#1d4a7a" stroke-width="1.0" />
<line x1="109.00" y1="296.09" x2="109.00" y2="299.89" stroke="#1d4a7a" stroke-width="1.0" />
<line x1="111.00" y1="298.29" x2="111.00" y2="302.09" stroke="#1d4a7a" stroke-width="1.0" />
<line x1="113.00" y1="300.94" x2="113.00" y2="304.74" stroke="#1d4a7a" stroke-width="1.0" />
<line x1="115.00" y1="308.03" x2="115.00" y2="311.83" stroke="#1d4a7a" stroke-width="1.0" />
<line x1="117.00" y1="313.06" x2="117.00" y2="316.86" stroke="#1d4a7a" stroke-width="1.0" />
<line x1="124.00" y1="321.33" x2="124.00" y2="325.13" stroke="#1d4a7a" stroke-width="1.0" />
<line x1="128.00" y1="325.70" x2="128.00" y2="329.50" stroke="#1d4a7a" stroke-width="1.0" />
<line x1="136.00" y1="332.80" x2="136.00" y2="336.60" stroke="#1d4a7a" stroke-width="1.0" />
<line x1="141.50" y1="341.50" x2="141.50" y2="345.30" stroke="#1d4a7a" stroke-width="1.0" />
<path d="M59.50,264.80 H63.00 V266.10 H66.50 V267.40 H70.00 V268.70 H73.33 V270.37 H76.67 V272.03 H80.00 V273.70 H83.30 V275.33 H86.60 V276.97 H89.90 V278.60 H94.25 V279.85 H98.60 V281.10 H101.50 V282.77 H104.40 V284.43 H107.30 V286.10 H109.77 V287.73 H112.23 V289.37 H114.70 V291.00 H115.95 V292.30 H117.20 V293.60 L118.50,293.60 L118.50,301.00 L132.50,301.00 L132.50,306.60 L161.50,306.60" fill="none" stroke="#c01b3d" stroke-width="1.7" stroke-linejoin="miter"/>
<line x1="63.00" y1="264.10" x2="63.00" y2="268.10" stroke="#c01b3d" stroke-width="1.0" />
<line x1="64.50" y1="264.66" x2="64.50" y2="268.66" stroke="#c01b3d" stroke-width="1.0" />
<line x1="66.00" y1="265.21" x2="66.00" y2="269.21" stroke="#c01b3d" stroke-width="1.0" />
<line x1="67.50" y1="265.77" x2="67.50" y2="269.77" stroke="#c01b3d" stroke-width="1.0" />
<line x1="69.00" y1="266.33" x2="69.00" y2="270.33" stroke="#c01b3d" stroke-width="1.0" />
<line x1="70.50" y1="266.95" x2="70.50" y2="270.95" stroke="#c01b3d" stroke-width="1.0" />
<line x1="72.00" y1="267.70" x2="72.00" y2="271.70" stroke="#c01b3d" stroke-width="1.0" />
<line x1="73.50" y1="268.45" x2="73.50" y2="272.45" stroke="#c01b3d" stroke-width="1.0" />
<line x1="75.00" y1="269.20" x2="75.00" y2="273.20" stroke="#c01b3d" stroke-width="1.0" />
<line x1="76.50" y1="269.95" x2="76.50" y2="273.95" stroke="#c01b3d" stroke-width="1.0" />
<line x1="78.00" y1="270.70" x2="78.00" y2="274.70" stroke="#c01b3d" stroke-width="1.0" />
<line x1="79.50" y1="271.45" x2="79.50" y2="275.45" stroke="#c01b3d" stroke-width="1.0" />
<line x1="81.00" y1="272.19" x2="81.00" y2="276.19" stroke="#c01b3d" stroke-width="1.0" />
<line x1="82.50" y1="272.94" x2="82.50" y2="276.94" stroke="#c01b3d" stroke-width="1.0" />
<line x1="84.00" y1="273.68" x2="84.00" y2="277.68" stroke="#c01b3d" stroke-width="1.0" />
<line x1="85.50" y1="274.42" x2="85.50" y2="278.42" stroke="#c01b3d" stroke-width="1.0" />
<line x1="87.00" y1="275.16" x2="87.00" y2="279.16" stroke="#c01b3d" stroke-width="1.0" />
<line x1="88.50" y1="275.91" x2="88.50" y2="279.91" stroke="#c01b3d" stroke-width="1.0" />
<line x1="90.00" y1="276.63" x2="90.00" y2="280.63" stroke="#c01b3d" stroke-width="1.0" />
<line x1="91.50" y1="277.06" x2="91.50" y2="281.06" stroke="#c01b3d" stroke-width="1.0" />
<line x1="93.00" y1="277.49" x2="93.00" y2="281.49" stroke="#c01b3d" stroke-width="1.0" />
<line x1="94.50" y1="277.92" x2="94.50" y2="281.92" stroke="#c01b3d" stroke-width="1.0" />
<line x1="96.00" y1="278.35" x2="96.00" y2="282.35" stroke="#c01b3d" stroke-width="1.0" />
<line x1="97.50" y1="278.78" x2="97.50" y2="282.78" stroke="#c01b3d" stroke-width="1.0" />
<line x1="99.00" y1="279.33" x2="99.00" y2="283.33" stroke="#c01b3d" stroke-width="1.0" />
<line x1="100.50" y1="280.19" x2="100.50" y2="284.19" stroke="#c01b3d" stroke-width="1.0" />
<line x1="102.00" y1="281.05" x2="102.00" y2="285.05" stroke="#c01b3d" stroke-width="1.0" />
<line x1="103.50" y1="281.92" x2="103.50" y2="285.92" stroke="#c01b3d" stroke-width="1.0" />
<line x1="105.00" y1="282.78" x2="105.00" y2="286.78" stroke="#c01b3d" stroke-width="1.0" />
<line x1="106.50" y1="283.64" x2="106.50" y2="287.64" stroke="#c01b3d" stroke-width="1.0" />
<line x1="108.00" y1="284.56" x2="108.00" y2="288.56" stroke="#c01b3d" stroke-width="1.0" />
<line x1="109.50" y1="285.56" x2="109.50" y2="289.56" stroke="#c01b3d" stroke-width="1.0" />
<line x1="111.00" y1="286.55" x2="111.00" y2="290.55" stroke="#c01b3d" stroke-width="1.0" />
<line x1="112.50" y1="287.54" x2="112.50" y2="291.54" stroke="#c01b3d" stroke-width="1.0" />
<line x1="114.00" y1="288.54" x2="114.00" y2="292.54" stroke="#c01b3d" stroke-width="1.0" />
<line x1="115.50" y1="289.83" x2="115.50" y2="293.83" stroke="#c01b3d" stroke-width="1.0" />
<line x1="63.00" y1="264.10" x2="63.00" y2="268.10" stroke="#c01b3d" stroke-width="1.0" />
<line x1="65.00" y1="264.84" x2="65.00" y2="268.84" stroke="#c01b3d" stroke-width="1.0" />
<line x1="67.00" y1="265.59" x2="67.00" y2="269.59" stroke="#c01b3d" stroke-width="1.0" />
<line x1="70.00" y1="266.70" x2="70.00" y2="270.70" stroke="#c01b3d" stroke-width="1.0" />
<line x1="72.00" y1="267.70" x2="72.00" y2="271.70" stroke="#c01b3d" stroke-width="1.0" />
<line x1="74.00" y1="268.70" x2="74.00" y2="272.70" stroke="#c01b3d" stroke-width="1.0" />
<line x1="77.00" y1="270.20" x2="77.00" y2="274.20" stroke="#c01b3d" stroke-width="1.0" />
<line x1="79.00" y1="271.20" x2="79.00" y2="275.20" stroke="#c01b3d" stroke-width="1.0" />
<line x1="82.00" y1="272.69" x2="82.00" y2="276.69" stroke="#c01b3d" stroke-width="1.0" />
<line x1="84.00" y1="273.68" x2="84.00" y2="277.68" stroke="#c01b3d" stroke-width="1.0" />
<line x1="86.00" y1="274.67" x2="86.00" y2="278.67" stroke="#c01b3d" stroke-width="1.0" />
<line x1="89.00" y1="276.15" x2="89.00" y2="280.15" stroke="#c01b3d" stroke-width="1.0" />
<line x1="91.00" y1="276.92" x2="91.00" y2="280.92" stroke="#c01b3d" stroke-width="1.0" />
<line x1="93.00" y1="277.49" x2="93.00" y2="281.49" stroke="#c01b3d" stroke-width="1.0" />
<line x1="95.00" y1="278.07" x2="95.00" y2="282.07" stroke="#c01b3d" stroke-width="1.0" />
<line x1="97.00" y1="278.64" x2="97.00" y2="282.64" stroke="#c01b3d" stroke-width="1.0" />
<line x1="100.00" y1="279.90" x2="100.00" y2="283.90" stroke="#c01b3d" stroke-width="1.0" />
<line x1="102.00" y1="281.05" x2="102.00" y2="285.05" stroke="#c01b3d" stroke-width="1.0" />
<line x1="104.00" y1="282.20" x2="104.00" y2="286.20" stroke="#c01b3d" stroke-width="1.0" />
<line x1="106.00" y1="283.35" x2="106.00" y2="287.35" stroke="#c01b3d" stroke-width="1.0" />
<line x1="108.00" y1="284.56" x2="108.00" y2="288.56" stroke="#c01b3d" stroke-width="1.0" />
<line x1="110.00" y1="285.89" x2="110.00" y2="289.89" stroke="#c01b3d" stroke-width="1.0" />
<line x1="112.00" y1="287.21" x2="112.00" y2="291.21" stroke="#c01b3d" stroke-width="1.0" />
<line x1="114.00" y1="288.54" x2="114.00" y2="292.54" stroke="#c01b3d" stroke-width="1.0" />
<line x1="116.00" y1="290.35" x2="116.00" y2="294.35" stroke="#c01b3d" stroke-width="1.0" />
<line x1="121.00" y1="299.00" x2="121.00" y2="303.00" stroke="#c01b3d" stroke-width="1.0" />
<line x1="125.00" y1="299.00" x2="125.00" y2="303.00" stroke="#c01b3d" stroke-width="1.0" />
<line x1="128.00" y1="299.00" x2="128.00" y2="303.00" stroke="#c01b3d" stroke-width="1.0" />
<line x1="136.00" y1="304.60" x2="136.00" y2="308.60" stroke="#c01b3d" stroke-width="1.0" />
<line x1="140.00" y1="304.60" x2="140.00" y2="308.60" stroke="#c01b3d" stroke-width="1.0" />
<line x1="145.00" y1="304.60" x2="145.00" y2="308.60" stroke="#c01b3d" stroke-width="1.0" />
<line x1="148.00" y1="304.60" x2="148.00" y2="308.60" stroke="#c01b3d" stroke-width="1.0" />
<line x1="150.00" y1="304.60" x2="150.00" y2="308.60" stroke="#c01b3d" stroke-width="1.0" />
<line x1="152.00" y1="304.60" x2="152.00" y2="308.60" stroke="#c01b3d" stroke-width="1.0" />
<line x1="154.00" y1="304.60" x2="154.00" y2="308.60" stroke="#c01b3d" stroke-width="1.0" />
<line x1="157.70" y1="304.60" x2="157.70" y2="308.60" stroke="#c01b3d" stroke-width="1.0" />
<line x1="160.40" y1="304.60" x2="160.40" y2="308.60" stroke="#c01b3d" stroke-width="1.0" />
<text x="106.20" y="397.30" font-size="9.8" text-anchor="middle" stroke="#222" stroke-width="0.1" textLength="44.50" lengthAdjust="spacingAndGlyphs">Time in years</text>
<text x="84.80" y="409.60" font-size="8.4" text-anchor="middle" stroke="#222" stroke-width="0.1" textLength="58.80" lengthAdjust="spacingAndGlyphs">Numbers at risk</text>
<text x="49.40" y="421.80" font-size="8.4" text-anchor="end" fill="#c01b3d" stroke="#c01b3d" stroke-width="0.1" textLength="15.40" lengthAdjust="spacingAndGlyphs">high</text>
<text x="49.40" y="433.80" font-size="8.4" text-anchor="end" fill="#1d4a7a" stroke="#1d4a7a" stroke-width="0.1" textLength="12.30" lengthAdjust="spacingAndGlyphs">low</text>
<text x="60.60" y="421.80" font-size="8.6" text-anchor="middle" stroke="#222" stroke-width="0.1" textLength="13.63" lengthAdjust="spacingAndGlyphs">174</text>
<text x="82.50" y="421.80" font-size="8.6" text-anchor="middle" stroke="#222" stroke-width="0.1" textLength="13.63" lengthAdjust="spacingAndGlyphs">143</text>
<text x="104.50" y="421.80" font-size="8.6" text-anchor="middle" stroke="#222" stroke-width="0.1" textLength="9.09" lengthAdjust="spacingAndGlyphs">68</text>
<text x="126.60" y="421.80" font-size="8.6" text-anchor="middle" stroke="#222" stroke-width="0.1" textLength="9.09" lengthAdjust="spacingAndGlyphs">14</text>
<text x="148.60" y="421.80" font-size="8.6" text-anchor="middle" stroke="#222" stroke-width="0.1" textLength="4.54" lengthAdjust="spacingAndGlyphs">7</text>
<text x="60.60" y="433.80" font-size="8.6" text-anchor="middle" stroke="#222" stroke-width="0.1" textLength="13.63" lengthAdjust="spacingAndGlyphs">201</text>
<text x="82.50" y="433.80" font-size="8.6" text-anchor="middle" stroke="#222" stroke-width="0.1" textLength="13.63" lengthAdjust="spacingAndGlyphs">163</text>
<text x="104.50" y="433.80" font-size="8.6" text-anchor="middle" stroke="#222" stroke-width="0.1" textLength="9.09" lengthAdjust="spacingAndGlyphs">65</text>
<text x="126.60" y="433.80" font-size="8.6" text-anchor="middle" stroke="#222" stroke-width="0.1" textLength="4.54" lengthAdjust="spacingAndGlyphs">9</text>
<text x="148.60" y="433.80" font-size="8.6" text-anchor="middle" stroke="#222" stroke-width="0.1" textLength="4.54" lengthAdjust="spacingAndGlyphs">0</text>
<text x="193.50" y="203.90" font-size="8.2" stroke="#222" stroke-width="0.1" font-style="italic" textLength="36.30" lengthAdjust="spacingAndGlyphs">ICGC-CLL</text>
<line x1="225.80" y1="212.80" x2="238.80" y2="212.80" stroke="#f39325" stroke-width="1.0" />
<line x1="232.30" y1="210.00" x2="232.30" y2="215.60" stroke="#f39325" stroke-width="1.0" />
<text x="242.10" y="215.40" font-size="8.3" stroke="#222" stroke-width="0.1" textLength="62.50" lengthAdjust="spacingAndGlyphs">M-IGHV-<tspan font-style="italic">TBX21</tspan><tspan font-size="5.8" dy="-3.2">high</tspan></text>
<line x1="225.80" y1="225.00" x2="238.80" y2="225.00" stroke="#3aa63e" stroke-width="1.0" />
<line x1="232.30" y1="222.20" x2="232.30" y2="227.80" stroke="#3aa63e" stroke-width="1.0" />
<text x="242.10" y="227.60" font-size="8.3" stroke="#222" stroke-width="0.1" textLength="60.50" lengthAdjust="spacingAndGlyphs">M-IGHV-<tspan font-style="italic">TBX21</tspan><tspan font-size="5.8" dy="-3.2">low</tspan></text>
<line x1="225.80" y1="237.30" x2="238.80" y2="237.30" stroke="#5b2a86" stroke-width="1.0" />
<line x1="232.30" y1="234.50" x2="232.30" y2="240.10" stroke="#5b2a86" stroke-width="1.0" />
<text x="242.10" y="239.90" font-size="8.3" stroke="#222" stroke-width="0.1" textLength="65.40" lengthAdjust="spacingAndGlyphs">UM-IGHV-<tspan font-style="italic">TBX21</tspan><tspan font-size="5.8" dy="-3.2">high</tspan></text>
<line x1="225.80" y1="249.40" x2="238.80" y2="249.40" stroke="#3aa9dc" stroke-width="1.0" />
<line x1="232.30" y1="246.60" x2="232.30" y2="252.20" stroke="#3aa9dc" stroke-width="1.0" />
<text x="242.10" y="252.00" font-size="8.3" stroke="#222" stroke-width="0.1" textLength="63.50" lengthAdjust="spacingAndGlyphs">UM-IGHV-<tspan font-style="italic">TBX21</tspan><tspan font-size="5.8" dy="-3.2">low</tspan></text>
<line x1="227.20" y1="260.50" x2="227.20" y2="370.20" stroke="#1a1a1a" stroke-width="1.3" />
<line x1="226.70" y1="370.20" x2="335.80" y2="370.20" stroke="#1a1a1a" stroke-width="1.3" />
<line x1="223.80" y1="265.00" x2="227.20" y2="265.00" stroke="#1a1a1a" stroke-width="1" />
<text x="220.80" y="268.00" font-size="8.4" text-anchor="end" stroke="#222" stroke-width="0.1" textLength="15.00" lengthAdjust="spacingAndGlyphs">1.00</text>
<line x1="223.80" y1="290.00" x2="227.20" y2="290.00" stroke="#1a1a1a" stroke-width="1" />
<text x="220.80" y="293.00" font-size="8.4" text-anchor="end" stroke="#222" stroke-width="0.1" textLength="15.00" lengthAdjust="spacingAndGlyphs">0.75</text>
<line x1="223.80" y1="315.00" x2="227.20" y2="315.00" stroke="#1a1a1a" stroke-width="1" />
<text x="220.80" y="318.00" font-size="8.4" text-anchor="end" stroke="#222" stroke-width="0.1" textLength="15.00" lengthAdjust="spacingAndGlyphs">0.50</text>
<line x1="223.80" y1="340.00" x2="227.20" y2="340.00" stroke="#1a1a1a" stroke-width="1" />
<text x="220.80" y="343.00" font-size="8.4" text-anchor="end" stroke="#222" stroke-width="0.1" textLength="15.00" lengthAdjust="spacingAndGlyphs">0.25</text>
<line x1="223.80" y1="365.00" x2="227.20" y2="365.00" stroke="#1a1a1a" stroke-width="1" />
<text x="220.80" y="368.00" font-size="8.4" text-anchor="end" stroke="#222" stroke-width="0.1" textLength="15.00" lengthAdjust="spacingAndGlyphs">0.00</text>
<line x1="232.30" y1="370.20" x2="232.30" y2="373.60" stroke="#1a1a1a" stroke-width="1" />
<text x="232.30" y="383.50" font-size="8.4" text-anchor="middle" stroke="#222" stroke-width="0.1">0</text>
<line x1="258.20" y1="370.20" x2="258.20" y2="373.60" stroke="#1a1a1a" stroke-width="1" />
<text x="258.20" y="383.50" font-size="8.4" text-anchor="middle" stroke="#222" stroke-width="0.1">4</text>
<line x1="284.90" y1="370.20" x2="284.90" y2="373.60" stroke="#1a1a1a" stroke-width="1" />
<text x="284.90" y="383.50" font-size="8.4" text-anchor="middle" stroke="#222" stroke-width="0.1">8</text>
<line x1="311.20" y1="370.20" x2="311.20" y2="373.60" stroke="#1a1a1a" stroke-width="1" />
<text x="311.20" y="383.50" font-size="8.4" text-anchor="middle" stroke="#222" stroke-width="0.1">12</text>
<line x1="329.90" y1="370.20" x2="329.90" y2="373.60" stroke="#1a1a1a" stroke-width="1" />
<text x="329.90" y="383.50" font-size="8.4" text-anchor="middle" stroke="#222" stroke-width="0.1">15</text>
<text x="198.10" y="315.60" font-size="8.4" text-anchor="middle" stroke="#222" stroke-width="0.1" textLength="53.00" lengthAdjust="spacingAndGlyphs" transform="rotate(-90 198.10 315.60)">Overall survival</text>
<text x="234.00" y="349.10" font-size="8.3" stroke="#222" stroke-width="0.1" textLength="31.20" lengthAdjust="spacingAndGlyphs">Log-rank</text>
<text x="234.00" y="358.90" font-size="8.3" stroke="#222" stroke-width="0.1"><tspan font-style="italic">P</tspan> = 3.44 e<tspan font-size="5.8" dy="-3.2">&#8211;07</tspan></text>
<path d="M232.50,264.80 H233.73 V266.53 H234.97 V268.27 H236.20 V270.00 H237.44 V271.48 H238.68 V272.96 H239.92 V274.44 H241.16 V275.92 H242.40 V277.40 H244.90 V279.25 H247.40 V281.10 H250.73 V282.37 H254.07 V283.63 H257.40 V284.90 H259.38 V286.38 H261.36 V287.86 H263.34 V289.34 H265.32 V290.82 H267.30 V292.30 H269.30 V293.80 H271.30 V295.30 H273.30 V296.80 H275.30 V298.30 H277.30 V299.80 H280.60 V301.47 H283.90 V303.13 H287.20 V304.80 H289.10 V306.65 H291.00 V308.50 H293.50 V316.00 H296.00 V319.70 H297.20 V327.20 H299.70 V334.70 H309.60 V338.40 H310.90 V342.10 H322.10 V344.60 H323.30 V347.10 L329.60,347.10 L329.60,364.50" fill="none" stroke="#3aa9dc" stroke-width="1.6" stroke-linejoin="miter"/>
<line x1="238.00" y1="270.25" x2="238.00" y2="274.05" stroke="#3aa9dc" stroke-width="1.1" />
<line x1="241.00" y1="273.83" x2="241.00" y2="277.63" stroke="#3aa9dc" stroke-width="1.1" />
<line x1="246.00" y1="278.16" x2="246.00" y2="281.96" stroke="#3aa9dc" stroke-width="1.1" />
<line x1="250.00" y1="280.19" x2="250.00" y2="283.99" stroke="#3aa9dc" stroke-width="1.1" />
<line x1="255.00" y1="282.09" x2="255.00" y2="285.89" stroke="#3aa9dc" stroke-width="1.1" />
<line x1="262.00" y1="286.44" x2="262.00" y2="290.24" stroke="#3aa9dc" stroke-width="1.1" />
<line x1="268.00" y1="290.93" x2="268.00" y2="294.72" stroke="#3aa9dc" stroke-width="1.1" />
<line x1="272.00" y1="293.93" x2="272.00" y2="297.72" stroke="#3aa9dc" stroke-width="1.1" />
<line x1="278.00" y1="298.25" x2="278.00" y2="302.05" stroke="#3aa9dc" stroke-width="1.1" />
<line x1="284.00" y1="301.28" x2="284.00" y2="305.08" stroke="#3aa9dc" stroke-width="1.1" />
<line x1="290.00" y1="305.63" x2="290.00" y2="309.43" stroke="#3aa9dc" stroke-width="1.1" />
<line x1="297.20" y1="325.30" x2="297.20" y2="329.10" stroke="#3aa9dc" stroke-width="1.1" />
<line x1="323.30" y1="345.20" x2="323.30" y2="349.00" stroke="#3aa9dc" stroke-width="1.1" />
<line x1="326.50" y1="345.20" x2="326.50" y2="349.00" stroke="#3aa9dc" stroke-width="1.1" />
<path d="M232.50,264.80 H234.57 V266.10 H236.63 V267.40 H238.70 V268.70 H240.25 V270.25 H241.80 V271.80 H243.35 V273.35 H244.90 V274.90 H248.23 V276.57 H251.57 V278.23 H254.90 V279.90 H256.88 V281.40 H258.86 V282.90 H260.84 V284.40 H262.82 V285.90 H264.80 V287.40 H267.30 V288.95 H269.80 V290.50 H272.30 V292.05 H274.80 V293.60 H276.68 V295.15 H278.55 V296.70 H280.43 V298.25 H282.30 V299.80 H284.75 V301.05 H287.20 V302.30 H299.70 V303.50 L299.70,314.70 L318.40,314.70 L318.40,327.20 L335.80,327.20" fill="none" stroke="#5b2a86" stroke-width="1.6" stroke-linejoin="miter"/>
<line x1="240.00" y1="268.10" x2="240.00" y2="271.90" stroke="#5b2a86" stroke-width="1.1" />
<line x1="246.00" y1="273.55" x2="246.00" y2="277.35" stroke="#5b2a86" stroke-width="1.1" />
<line x1="252.00" y1="276.55" x2="252.00" y2="280.35" stroke="#5b2a86" stroke-width="1.1" />
<line x1="258.00" y1="280.35" x2="258.00" y2="284.15" stroke="#5b2a86" stroke-width="1.1" />
<line x1="265.00" y1="285.62" x2="265.00" y2="289.42" stroke="#5b2a86" stroke-width="1.1" />
<line x1="270.00" y1="288.72" x2="270.00" y2="292.52" stroke="#5b2a86" stroke-width="1.1" />
<line x1="276.00" y1="292.69" x2="276.00" y2="296.49" stroke="#5b2a86" stroke-width="1.1" />
<line x1="281.00" y1="296.83" x2="281.00" y2="300.63" stroke="#5b2a86" stroke-width="1.1" />
<line x1="285.00" y1="299.28" x2="285.00" y2="303.08" stroke="#5b2a86" stroke-width="1.1" />
<line x1="289.00" y1="300.57" x2="289.00" y2="304.37" stroke="#5b2a86" stroke-width="1.1" />
<line x1="293.00" y1="300.96" x2="293.00" y2="304.76" stroke="#5b2a86" stroke-width="1.1" />
<line x1="297.00" y1="301.34" x2="297.00" y2="305.14" stroke="#5b2a86" stroke-width="1.1" />
<line x1="303.00" y1="312.80" x2="303.00" y2="316.60" stroke="#5b2a86" stroke-width="1.1" />
<line x1="310.00" y1="312.80" x2="310.00" y2="316.60" stroke="#5b2a86" stroke-width="1.1" />
<path d="M232.50,264.80 H236.25 V266.10 H240.00 V267.40 H242.47 V268.97 H244.95 V270.55 H247.43 V272.12 H249.90 V273.70 H253.23 V275.33 H256.57 V276.97 H259.90 V278.60 H263.62 V280.18 H267.35 V281.75 H271.07 V283.32 H274.80 V284.90 H279.75 V286.75 H284.70 V288.60 H288.03 V290.27 H291.37 V291.93 H294.70 V293.60 H304.70 V294.80 L305.90,294.80 L305.90,306.00 H313.40 V307.30 L314.60,307.30 L314.60,314.70 L326.60,314.70 L326.60,330.90 L335.80,330.90" fill="none" stroke="#3aa63e" stroke-width="1.6" stroke-linejoin="miter"/>
<line x1="238.00" y1="264.81" x2="238.00" y2="268.61" stroke="#3aa63e" stroke-width="1.1" />
<line x1="243.00" y1="267.41" x2="243.00" y2="271.21" stroke="#3aa63e" stroke-width="1.1" />
<line x1="248.00" y1="270.59" x2="248.00" y2="274.39" stroke="#3aa63e" stroke-width="1.1" />
<line x1="253.00" y1="273.32" x2="253.00" y2="277.12" stroke="#3aa63e" stroke-width="1.1" />
<line x1="257.00" y1="275.28" x2="257.00" y2="279.08" stroke="#3aa63e" stroke-width="1.1" />
<line x1="261.00" y1="277.17" x2="261.00" y2="280.97" stroke="#3aa63e" stroke-width="1.1" />
<line x1="266.00" y1="279.28" x2="266.00" y2="283.08" stroke="#3aa63e" stroke-width="1.1" />
<line x1="270.00" y1="280.97" x2="270.00" y2="284.77" stroke="#3aa63e" stroke-width="1.1" />
<line x1="274.00" y1="282.66" x2="274.00" y2="286.46" stroke="#3aa63e" stroke-width="1.1" />
<line x1="278.00" y1="284.20" x2="278.00" y2="288.00" stroke="#3aa63e" stroke-width="1.1" />
<line x1="282.00" y1="285.69" x2="282.00" y2="289.49" stroke="#3aa63e" stroke-width="1.1" />
<line x1="285.00" y1="286.85" x2="285.00" y2="290.65" stroke="#3aa63e" stroke-width="1.1" />
<line x1="288.00" y1="288.35" x2="288.00" y2="292.15" stroke="#3aa63e" stroke-width="1.1" />
<line x1="291.00" y1="289.85" x2="291.00" y2="293.65" stroke="#3aa63e" stroke-width="1.1" />
<line x1="294.00" y1="291.35" x2="294.00" y2="295.15" stroke="#3aa63e" stroke-width="1.1" />
<line x1="297.00" y1="291.98" x2="297.00" y2="295.78" stroke="#3aa63e" stroke-width="1.1" />
<line x1="300.00" y1="292.34" x2="300.00" y2="296.14" stroke="#3aa63e" stroke-width="1.1" />
<line x1="303.00" y1="292.70" x2="303.00" y2="296.50" stroke="#3aa63e" stroke-width="1.1" />
<line x1="317.00" y1="312.80" x2="317.00" y2="316.60" stroke="#3aa63e" stroke-width="1.1" />
<line x1="321.00" y1="312.80" x2="321.00" y2="316.60" stroke="#3aa63e" stroke-width="1.1" />
<line x1="324.50" y1="312.80" x2="324.50" y2="316.60" stroke="#3aa63e" stroke-width="1.1" />
<path d="M232.50,264.80 H247.40 V265.00 H257.40 V267.00 H262.35 V268.50 H267.30 V270.00 H272.30 V271.20 H277.30 V272.40 H281.00 V273.65 H284.70 V274.90 H286.60 V276.75 H288.50 V278.60 L335.80,278.60" fill="none" stroke="#f39325" stroke-width="1.6" stroke-linejoin="miter"/>
<line x1="236.00" y1="262.95" x2="236.00" y2="266.75" stroke="#f39325" stroke-width="1.1" />
<line x1="240.00" y1="263.00" x2="240.00" y2="266.80" stroke="#f39325" stroke-width="1.1" />
<line x1="245.00" y1="263.07" x2="245.00" y2="266.87" stroke="#f39325" stroke-width="1.1" />
<line x1="250.00" y1="263.62" x2="250.00" y2="267.42" stroke="#f39325" stroke-width="1.1" />
<line x1="255.00" y1="264.62" x2="255.00" y2="268.42" stroke="#f39325" stroke-width="1.1" />
<line x1="259.00" y1="265.58" x2="259.00" y2="269.38" stroke="#f39325" stroke-width="1.1" />
<line x1="263.00" y1="266.80" x2="263.00" y2="270.60" stroke="#f39325" stroke-width="1.1" />
<line x1="266.00" y1="267.71" x2="266.00" y2="271.51" stroke="#f39325" stroke-width="1.1" />
<line x1="270.00" y1="268.75" x2="270.00" y2="272.55" stroke="#f39325" stroke-width="1.1" />
<line x1="273.00" y1="269.47" x2="273.00" y2="273.27" stroke="#f39325" stroke-width="1.1" />
<line x1="276.00" y1="270.19" x2="276.00" y2="273.99" stroke="#f39325" stroke-width="1.1" />
<line x1="279.00" y1="271.07" x2="279.00" y2="274.87" stroke="#f39325" stroke-width="1.1" />
<line x1="282.00" y1="272.09" x2="282.00" y2="275.89" stroke="#f39325" stroke-width="1.1" />
<line x1="285.00" y1="273.29" x2="285.00" y2="277.09" stroke="#f39325" stroke-width="1.1" />
<line x1="288.00" y1="276.21" x2="288.00" y2="280.01" stroke="#f39325" stroke-width="1.1" />
<line x1="291.00" y1="276.70" x2="291.00" y2="280.50" stroke="#f39325" stroke-width="1.1" />
<line x1="294.00" y1="276.70" x2="294.00" y2="280.50" stroke="#f39325" stroke-width="1.1" />
<line x1="298.00" y1="276.70" x2="298.00" y2="280.50" stroke="#f39325" stroke-width="1.1" />
<line x1="318.00" y1="276.70" x2="318.00" y2="280.50" stroke="#f39325" stroke-width="1.1" />
<line x1="330.50" y1="297.30" x2="334.50" y2="297.30" stroke="#f39325" stroke-width="0.9" />
<line x1="332.50" y1="295.30" x2="332.50" y2="299.30" stroke="#f39325" stroke-width="0.9" />
<line x1="330.50" y1="345.10" x2="334.50" y2="345.10" stroke="#5b2a86" stroke-width="0.9" />
<line x1="332.50" y1="343.10" x2="332.50" y2="347.10" stroke="#5b2a86" stroke-width="0.9" />
<text x="280.00" y="397.30" font-size="9.8" text-anchor="middle" stroke="#222" stroke-width="0.1" textLength="44.50" lengthAdjust="spacingAndGlyphs">Time in years</text>
<text x="257.70" y="409.80" font-size="8.4" text-anchor="middle" stroke="#222" stroke-width="0.1" textLength="57.10" lengthAdjust="spacingAndGlyphs">Numbers at risk</text>
<text x="204.00" y="430.00" font-size="8.6" text-anchor="end" stroke="#222" stroke-width="0.1">M</text>
<text x="204.00" y="449.00" font-size="8.6" text-anchor="end" stroke="#222" stroke-width="0.1">UM</text>
<text x="207.20" y="424.00" font-size="6.5" fill="#f6ad5c" textLength="15.50" lengthAdjust="spacingAndGlyphs">T<tspan font-size="6" dy="-2.0">high</tspan></text>
<text x="207.20" y="433.00" font-size="6.5" fill="#72be6e" textLength="15.50" lengthAdjust="spacingAndGlyphs">T<tspan font-size="6" dy="-2.0">low</tspan></text>
<text x="207.20" y="442.80" font-size="6.5" fill="#8a64a8" textLength="15.50" lengthAdjust="spacingAndGlyphs">T<tspan font-size="6" dy="-2.0">high</tspan></text>
<text x="207.20" y="451.80" font-size="6.5" fill="#7cc6e8" textLength="15.50" lengthAdjust="spacingAndGlyphs">T<tspan font-size="6" dy="-2.0">low</tspan></text>
<text x="232.30" y="425.00" font-size="8.6" text-anchor="middle" stroke="#222" stroke-width="0.1" textLength="12.42" lengthAdjust="spacingAndGlyphs">111</text>
<text x="258.20" y="425.00" font-size="8.6" text-anchor="middle" stroke="#222" stroke-width="0.1" textLength="13.63" lengthAdjust="spacingAndGlyphs">101</text>
<text x="284.90" y="425.00" font-size="8.6" text-anchor="middle" stroke="#222" stroke-width="0.1" textLength="9.09" lengthAdjust="spacingAndGlyphs">42</text>
<text x="311.20" y="425.00" font-size="8.6" text-anchor="middle" stroke="#222" stroke-width="0.1" textLength="4.54" lengthAdjust="spacingAndGlyphs">5</text>
<text x="329.90" y="425.00" font-size="8.6" text-anchor="middle" stroke="#222" stroke-width="0.1" textLength="4.54" lengthAdjust="spacingAndGlyphs">4</text>
<text x="232.30" y="434.00" font-size="8.6" text-anchor="middle" stroke="#222" stroke-width="0.1" textLength="13.63" lengthAdjust="spacingAndGlyphs">166</text>
<text x="258.20" y="434.00" font-size="8.6" text-anchor="middle" stroke="#222" stroke-width="0.1" textLength="13.63" lengthAdjust="spacingAndGlyphs">139</text>
<text x="284.90" y="434.00" font-size="8.6" text-anchor="middle" stroke="#222" stroke-width="0.1" textLength="9.09" lengthAdjust="spacingAndGlyphs">65</text>
<text x="311.20" y="434.00" font-size="8.6" text-anchor="middle" stroke="#222" stroke-width="0.1" textLength="4.54" lengthAdjust="spacingAndGlyphs">8</text>
<text x="329.90" y="434.00" font-size="8.6" text-anchor="middle" stroke="#222" stroke-width="0.1" textLength="4.54" lengthAdjust="spacingAndGlyphs">2</text>
<text x="232.30" y="443.80" font-size="8.6" text-anchor="middle" stroke="#222" stroke-width="0.1" textLength="9.09" lengthAdjust="spacingAndGlyphs">56</text>
<text x="258.20" y="443.80" font-size="8.6" text-anchor="middle" stroke="#222" stroke-width="0.1" textLength="9.09" lengthAdjust="spacingAndGlyphs">42</text>
<text x="284.90" y="443.80" font-size="8.6" text-anchor="middle" stroke="#222" stroke-width="0.1" textLength="9.09" lengthAdjust="spacingAndGlyphs">16</text>
<text x="311.20" y="443.80" font-size="8.6" text-anchor="middle" stroke="#222" stroke-width="0.1" textLength="4.54" lengthAdjust="spacingAndGlyphs">5</text>
<text x="329.90" y="443.80" font-size="8.6" text-anchor="middle" stroke="#222" stroke-width="0.1" textLength="4.54" lengthAdjust="spacingAndGlyphs">3</text>
<text x="232.30" y="452.80" font-size="8.6" text-anchor="middle" stroke="#222" stroke-width="0.1" textLength="9.09" lengthAdjust="spacingAndGlyphs">85</text>
<text x="258.20" y="452.80" font-size="8.6" text-anchor="middle" stroke="#222" stroke-width="0.1" textLength="9.09" lengthAdjust="spacingAndGlyphs">62</text>
<text x="284.90" y="452.80" font-size="8.6" text-anchor="middle" stroke="#222" stroke-width="0.1" textLength="9.09" lengthAdjust="spacingAndGlyphs">24</text>
<text x="311.20" y="452.80" font-size="8.6" text-anchor="middle" stroke="#222" stroke-width="0.1" textLength="4.54" lengthAdjust="spacingAndGlyphs">5</text>
<text x="329.90" y="452.80" font-size="8.6" text-anchor="middle" stroke="#222" stroke-width="0.1" textLength="4.54" lengthAdjust="spacingAndGlyphs">0</text>
<text x="371.00" y="203.90" font-size="8.2" stroke="#222" stroke-width="0.1" font-style="italic" textLength="36.30" lengthAdjust="spacingAndGlyphs">ICGC-CLL</text>
<line x1="399.80" y1="212.80" x2="412.30" y2="212.80" stroke="#f39325" stroke-width="1.0" />
<line x1="406.05" y1="210.00" x2="406.05" y2="215.60" stroke="#f39325" stroke-width="1.0" />
<text x="417.70" y="215.40" font-size="8.3" stroke="#222" stroke-width="0.1" textLength="69.20" lengthAdjust="spacingAndGlyphs"><tspan font-style="italic">ZAP70<tspan font-size="5.8" dy="-3.2">high</tspan><tspan dy="3.2">-TBX21</tspan><tspan font-size="5.8" dy="-3.2">high</tspan></tspan></text>
<line x1="399.80" y1="225.00" x2="412.30" y2="225.00" stroke="#3aa63e" stroke-width="1.0" />
<line x1="406.05" y1="222.20" x2="406.05" y2="227.80" stroke="#3aa63e" stroke-width="1.0" />
<text x="417.70" y="227.60" font-size="8.3" stroke="#222" stroke-width="0.1" textLength="67.70" lengthAdjust="spacingAndGlyphs"><tspan font-style="italic">ZAP70<tspan font-size="5.8" dy="-3.2">high</tspan><tspan dy="3.2">-TBX21</tspan><tspan font-size="5.8" dy="-3.2">low</tspan></tspan></text>
<line x1="399.80" y1="237.30" x2="412.30" y2="237.30" stroke="#5b2a86" stroke-width="1.0" />
<line x1="406.05" y1="234.50" x2="406.05" y2="240.10" stroke="#5b2a86" stroke-width="1.0" />
<text x="417.70" y="239.90" font-size="8.3" stroke="#222" stroke-width="0.1" textLength="66.70" lengthAdjust="spacingAndGlyphs"><tspan font-style="italic">ZAP70<tspan font-size="5.8" dy="-3.2">low</tspan><tspan dy="3.2">-TBX21</tspan><tspan font-size="5.8" dy="-3.2">high</tspan></tspan></text>
<line x1="399.80" y1="249.40" x2="412.30" y2="249.40" stroke="#3aa9dc" stroke-width="1.0" />
<line x1="406.05" y1="246.60" x2="406.05" y2="252.20" stroke="#3aa9dc" stroke-width="1.0" />
<text x="417.70" y="252.00" font-size="8.3" stroke="#222" stroke-width="0.1" textLength="64.80" lengthAdjust="spacingAndGlyphs"><tspan font-style="italic">ZAP70<tspan font-size="5.8" dy="-3.2">low</tspan><tspan dy="3.2">-TBX21</tspan><tspan font-size="5.8" dy="-3.2">low</tspan></tspan></text>
<line x1="404.50" y1="260.50" x2="404.50" y2="370.20" stroke="#1a1a1a" stroke-width="1.3" />
<line x1="404.00" y1="370.20" x2="512.50" y2="370.20" stroke="#1a1a1a" stroke-width="1.3" />
<line x1="401.10" y1="265.00" x2="404.50" y2="265.00" stroke="#1a1a1a" stroke-width="1" />
<text x="398.10" y="268.00" font-size="8.4" text-anchor="end" stroke="#222" stroke-width="0.1" textLength="15.00" lengthAdjust="spacingAndGlyphs">1.00</text>
<line x1="401.10" y1="290.00" x2="404.50" y2="290.00" stroke="#1a1a1a" stroke-width="1" />
<text x="398.10" y="293.00" font-size="8.4" text-anchor="end" stroke="#222" stroke-width="0.1" textLength="15.00" lengthAdjust="spacingAndGlyphs">0.75</text>
<line x1="401.10" y1="315.00" x2="404.50" y2="315.00" stroke="#1a1a1a" stroke-width="1" />
<text x="398.10" y="318.00" font-size="8.4" text-anchor="end" stroke="#222" stroke-width="0.1" textLength="15.00" lengthAdjust="spacingAndGlyphs">0.50</text>
<line x1="401.10" y1="340.00" x2="404.50" y2="340.00" stroke="#1a1a1a" stroke-width="1" />
<text x="398.10" y="343.00" font-size="8.4" text-anchor="end" stroke="#222" stroke-width="0.1" textLength="15.00" lengthAdjust="spacingAndGlyphs">0.25</text>
<line x1="401.10" y1="365.00" x2="404.50" y2="365.00" stroke="#1a1a1a" stroke-width="1" />
<text x="398.10" y="368.00" font-size="8.4" text-anchor="end" stroke="#222" stroke-width="0.1" textLength="15.00" lengthAdjust="spacingAndGlyphs">0.00</text>
<line x1="410.00" y1="370.20" x2="410.00" y2="373.60" stroke="#1a1a1a" stroke-width="1" />
<text x="410.00" y="383.50" font-size="8.4" text-anchor="middle" stroke="#222" stroke-width="0.1">0</text>
<line x1="435.20" y1="370.20" x2="435.20" y2="373.60" stroke="#1a1a1a" stroke-width="1" />
<text x="435.20" y="383.50" font-size="8.4" text-anchor="middle" stroke="#222" stroke-width="0.1">4</text>
<line x1="461.00" y1="370.20" x2="461.00" y2="373.60" stroke="#1a1a1a" stroke-width="1" />
<text x="461.00" y="383.50" font-size="8.4" text-anchor="middle" stroke="#222" stroke-width="0.1">8</text>
<line x1="488.00" y1="370.20" x2="488.00" y2="373.60" stroke="#1a1a1a" stroke-width="1" />
<text x="488.00" y="383.50" font-size="8.4" text-anchor="middle" stroke="#222" stroke-width="0.1">12</text>
<line x1="507.80" y1="370.20" x2="507.80" y2="373.60" stroke="#1a1a1a" stroke-width="1" />
<text x="507.80" y="383.50" font-size="8.4" text-anchor="middle" stroke="#222" stroke-width="0.1">15</text>
<text x="375.40" y="315.60" font-size="8.4" text-anchor="middle" stroke="#222" stroke-width="0.1" textLength="53.00" lengthAdjust="spacingAndGlyphs" transform="rotate(-90 375.40 315.60)">Overall survival</text>
<text x="416.00" y="349.10" font-size="8.3" stroke="#222" stroke-width="0.1" textLength="31.20" lengthAdjust="spacingAndGlyphs">Log-rank</text>
<text x="416.00" y="358.90" font-size="8.3" stroke="#222" stroke-width="0.1"><tspan font-style="italic">P</tspan> = 4.47 e<tspan font-size="5.8" dy="-3.2">&#8211;06</tspan></text>
<path d="M408.70,264.80 H409.70 V266.32 H410.70 V267.84 H411.70 V269.36 H412.70 V270.88 H413.70 V272.40 H415.25 V273.95 H416.80 V275.50 H418.35 V277.05 H419.90 V278.60 H422.40 V280.27 H424.90 V281.93 H427.40 V283.60 H430.70 V284.87 H434.00 V286.13 H437.30 V287.40 H438.80 V288.88 H440.30 V290.36 H441.80 V291.84 H443.30 V293.32 H444.80 V294.80 H446.98 V296.35 H449.15 V297.90 H451.32 V299.45 H453.50 V301.00 H456.00 V302.67 H458.50 V304.33 H461.00 V306.00 H463.50 V307.27 H466.00 V308.53 H468.50 V309.80 H469.73 V311.43 H470.97 V313.07 H472.20 V314.70 H473.40 V322.20 H474.70 V329.70 H480.90 V338.40 H484.60 V339.60 H490.90 V340.90 H492.10 V350.80 L498.30,350.80 H499.60 V364.50" fill="none" stroke="#3aa63e" stroke-width="1.6" stroke-linejoin="miter"/>
<line x1="418.00" y1="274.80" x2="418.00" y2="278.60" stroke="#3aa63e" stroke-width="1.1" />
<line x1="424.00" y1="279.43" x2="424.00" y2="283.23" stroke="#3aa63e" stroke-width="1.1" />
<line x1="430.00" y1="282.70" x2="430.00" y2="286.50" stroke="#3aa63e" stroke-width="1.1" />
<line x1="436.00" y1="285.00" x2="436.00" y2="288.80" stroke="#3aa63e" stroke-width="1.1" />
<line x1="441.00" y1="289.15" x2="441.00" y2="292.95" stroke="#3aa63e" stroke-width="1.1" />
<line x1="447.00" y1="294.47" x2="447.00" y2="298.27" stroke="#3aa63e" stroke-width="1.1" />
<line x1="452.00" y1="298.03" x2="452.00" y2="301.83" stroke="#3aa63e" stroke-width="1.1" />
<line x1="457.00" y1="301.43" x2="457.00" y2="305.23" stroke="#3aa63e" stroke-width="1.1" />
<line x1="461.00" y1="304.10" x2="461.00" y2="307.90" stroke="#3aa63e" stroke-width="1.1" />
<line x1="465.00" y1="306.13" x2="465.00" y2="309.93" stroke="#3aa63e" stroke-width="1.1" />
<line x1="470.00" y1="309.89" x2="470.00" y2="313.69" stroke="#3aa63e" stroke-width="1.1" />
<line x1="480.00" y1="335.24" x2="480.00" y2="339.04" stroke="#3aa63e" stroke-width="1.1" />
<line x1="491.00" y1="339.83" x2="491.00" y2="343.63" stroke="#3aa63e" stroke-width="1.1" />
<path d="M408.70,264.80 H410.77 V266.10 H412.83 V267.40 H414.90 V268.70 H416.77 V270.25 H418.65 V271.80 H420.52 V273.35 H422.40 V274.90 H423.32 V276.45 H424.25 V278.00 H425.18 V279.55 H426.10 V281.10 H428.20 V282.37 H430.30 V283.63 H432.40 V284.90 H434.88 V286.45 H437.35 V288.00 H439.82 V289.55 H442.30 V291.10 H444.80 V292.77 H447.30 V294.43 H449.80 V296.10 H451.30 V297.58 H452.80 V299.06 H454.30 V300.54 H455.80 V302.02 H457.30 V303.50 H458.48 V304.88 H459.65 V306.25 H460.82 V307.62 H462.00 V309.00 H463.35 V310.65 H464.70 V312.30 L513.30,312.30" fill="none" stroke="#f39325" stroke-width="1.6" stroke-linejoin="miter"/>
<line x1="420.00" y1="271.02" x2="420.00" y2="274.82" stroke="#f39325" stroke-width="1.1" />
<line x1="428.00" y1="280.35" x2="428.00" y2="284.15" stroke="#f39325" stroke-width="1.1" />
<line x1="434.00" y1="284.00" x2="434.00" y2="287.80" stroke="#f39325" stroke-width="1.1" />
<line x1="440.00" y1="287.76" x2="440.00" y2="291.56" stroke="#f39325" stroke-width="1.1" />
<line x1="446.00" y1="291.67" x2="446.00" y2="295.47" stroke="#f39325" stroke-width="1.1" />
<line x1="451.00" y1="295.38" x2="451.00" y2="299.18" stroke="#f39325" stroke-width="1.1" />
<line x1="455.00" y1="299.33" x2="455.00" y2="303.13" stroke="#f39325" stroke-width="1.1" />
<line x1="460.00" y1="304.76" x2="460.00" y2="308.56" stroke="#f39325" stroke-width="1.1" />
<line x1="466.00" y1="310.40" x2="466.00" y2="314.20" stroke="#f39325" stroke-width="1.1" />
<line x1="470.00" y1="310.40" x2="470.00" y2="314.20" stroke="#f39325" stroke-width="1.1" />
<line x1="509.00" y1="310.40" x2="509.00" y2="314.20" stroke="#f39325" stroke-width="1.1" />
<path d="M408.70,264.80 H411.60 V266.10 H414.50 V267.40 H417.40 V268.70 H420.73 V270.37 H424.07 V272.03 H427.40 V273.70 H430.70 V275.33 H434.00 V276.97 H437.30 V278.60 H441.47 V280.27 H445.63 V281.93 H449.80 V283.60 H452.90 V285.18 H456.00 V286.75 H459.10 V288.32 H462.20 V289.90 H464.70 V291.45 H467.20 V293.00 H469.70 V294.55 H472.20 V296.10 H472.94 V297.58 H473.68 V299.06 H474.42 V300.54 H475.16 V302.02 H475.90 V303.50 H479.70 V304.80 H482.20 V314.70 H485.90 V318.50 L502.10,318.50 H504.60 V326.00 H507.00 V327.20 L507.00,339.60 L513.30,339.60" fill="none" stroke="#3aa9dc" stroke-width="1.6" stroke-linejoin="miter"/>
<line x1="414.00" y1="265.28" x2="414.00" y2="269.08" stroke="#3aa9dc" stroke-width="1.1" />
<line x1="420.00" y1="268.10" x2="420.00" y2="271.90" stroke="#3aa9dc" stroke-width="1.1" />
<line x1="426.00" y1="271.10" x2="426.00" y2="274.90" stroke="#3aa9dc" stroke-width="1.1" />
<line x1="432.00" y1="274.08" x2="432.00" y2="277.88" stroke="#3aa9dc" stroke-width="1.1" />
<line x1="437.00" y1="276.55" x2="437.00" y2="280.35" stroke="#3aa9dc" stroke-width="1.1" />
<line x1="442.00" y1="278.58" x2="442.00" y2="282.38" stroke="#3aa9dc" stroke-width="1.1" />
<line x1="447.00" y1="280.58" x2="447.00" y2="284.38" stroke="#3aa9dc" stroke-width="1.1" />
<line x1="451.00" y1="282.31" x2="451.00" y2="286.11" stroke="#3aa9dc" stroke-width="1.1" />
<line x1="455.00" y1="284.34" x2="455.00" y2="288.14" stroke="#3aa9dc" stroke-width="1.1" />
<line x1="459.00" y1="286.37" x2="459.00" y2="290.17" stroke="#3aa9dc" stroke-width="1.1" />
<line x1="463.00" y1="288.50" x2="463.00" y2="292.30" stroke="#3aa9dc" stroke-width="1.1" />
<line x1="466.00" y1="290.36" x2="466.00" y2="294.16" stroke="#3aa9dc" stroke-width="1.1" />
<line x1="469.00" y1="292.22" x2="469.00" y2="296.02" stroke="#3aa9dc" stroke-width="1.1" />
<line x1="472.00" y1="294.08" x2="472.00" y2="297.88" stroke="#3aa9dc" stroke-width="1.1" />
<line x1="475.00" y1="299.80" x2="475.00" y2="303.60" stroke="#3aa9dc" stroke-width="1.1" />
<line x1="478.00" y1="302.32" x2="478.00" y2="306.12" stroke="#3aa9dc" stroke-width="1.1" />
<line x1="490.00" y1="316.60" x2="490.00" y2="320.40" stroke="#3aa9dc" stroke-width="1.1" />
<line x1="495.00" y1="316.60" x2="495.00" y2="320.40" stroke="#3aa9dc" stroke-width="1.1" />
<line x1="500.00" y1="316.60" x2="500.00" y2="320.40" stroke="#3aa9dc" stroke-width="1.1" />
<path d="M408.70,264.80 H427.40 V266.20 H432.35 V267.45 H437.30 V268.70 H443.55 V270.55 H449.80 V272.40 H453.10 V273.67 H456.40 V274.93 H459.70 V276.20 H463.45 V278.05 H467.20 V279.90 H474.70 V281.10 L475.90,281.10 L475.90,289.90 L494.60,289.90 L495.80,289.90 L495.80,301.00 L512.00,301.00" fill="none" stroke="#5b2a86" stroke-width="1.6" stroke-linejoin="miter"/>
<line x1="427.40" y1="264.30" x2="427.40" y2="268.10" stroke="#5b2a86" stroke-width="1.1" />
<line x1="440.00" y1="267.60" x2="440.00" y2="271.40" stroke="#5b2a86" stroke-width="1.1" />
<line x1="446.00" y1="269.38" x2="446.00" y2="273.18" stroke="#5b2a86" stroke-width="1.1" />
<line x1="450.00" y1="270.58" x2="450.00" y2="274.38" stroke="#5b2a86" stroke-width="1.1" />
<line x1="454.00" y1="272.11" x2="454.00" y2="275.91" stroke="#5b2a86" stroke-width="1.1" />
<line x1="458.00" y1="273.65" x2="458.00" y2="277.45" stroke="#5b2a86" stroke-width="1.1" />
<line x1="461.00" y1="274.94" x2="461.00" y2="278.74" stroke="#5b2a86" stroke-width="1.1" />
<line x1="464.00" y1="276.42" x2="464.00" y2="280.22" stroke="#5b2a86" stroke-width="1.1" />
<line x1="467.00" y1="277.90" x2="467.00" y2="281.70" stroke="#5b2a86" stroke-width="1.1" />
<line x1="470.00" y1="278.45" x2="470.00" y2="282.25" stroke="#5b2a86" stroke-width="1.1" />
<line x1="473.00" y1="278.93" x2="473.00" y2="282.73" stroke="#5b2a86" stroke-width="1.1" />
<line x1="485.00" y1="288.00" x2="485.00" y2="291.80" stroke="#5b2a86" stroke-width="1.1" />
<line x1="509.00" y1="299.10" x2="509.00" y2="302.90" stroke="#5b2a86" stroke-width="1.1" />
<text x="457.30" y="397.30" font-size="9.8" text-anchor="middle" stroke="#222" stroke-width="0.1" textLength="44.50" lengthAdjust="spacingAndGlyphs">Time in years</text>
<text x="434.20" y="409.80" font-size="8.4" text-anchor="middle" stroke="#222" stroke-width="0.1" textLength="57.10" lengthAdjust="spacingAndGlyphs">Numbers at risk</text>
<text x="365.00" y="430.00" font-size="8.6" stroke="#222" stroke-width="0.1">Z<tspan font-size="6" dy="-3.8">high</tspan></text>
<text x="365.00" y="449.00" font-size="8.6" stroke="#222" stroke-width="0.1">Z<tspan font-size="6" dy="-3.8">low</tspan></text>
<text x="383.50" y="424.00" font-size="6.5" fill="#f6ad5c" textLength="15.50" lengthAdjust="spacingAndGlyphs">T<tspan font-size="6" dy="-2.0">high</tspan></text>
<text x="383.50" y="433.00" font-size="6.5" fill="#72be6e" textLength="15.50" lengthAdjust="spacingAndGlyphs">T<tspan font-size="6" dy="-2.0">low</tspan></text>
<text x="383.50" y="442.80" font-size="6.5" fill="#8a64a8" textLength="15.50" lengthAdjust="spacingAndGlyphs">T<tspan font-size="6" dy="-2.0">high</tspan></text>
<text x="383.50" y="451.80" font-size="6.5" fill="#7cc6e8" textLength="15.50" lengthAdjust="spacingAndGlyphs">T<tspan font-size="6" dy="-2.0">low</tspan></text>
<text x="410.00" y="425.00" font-size="8.6" text-anchor="middle" stroke="#222" stroke-width="0.1" textLength="9.09" lengthAdjust="spacingAndGlyphs">40</text>
<text x="435.20" y="425.00" font-size="8.6" text-anchor="middle" stroke="#222" stroke-width="0.1" textLength="9.09" lengthAdjust="spacingAndGlyphs">28</text>
<text x="461.00" y="425.00" font-size="8.6" text-anchor="middle" stroke="#222" stroke-width="0.1" textLength="8.48" lengthAdjust="spacingAndGlyphs">11</text>
<text x="488.00" y="425.00" font-size="8.6" text-anchor="middle" stroke="#222" stroke-width="0.1" textLength="4.54" lengthAdjust="spacingAndGlyphs">2</text>
<text x="507.80" y="425.00" font-size="8.6" text-anchor="middle" stroke="#222" stroke-width="0.1" textLength="4.54" lengthAdjust="spacingAndGlyphs">2</text>
<text x="410.00" y="434.00" font-size="8.6" text-anchor="middle" stroke="#222" stroke-width="0.1" textLength="9.09" lengthAdjust="spacingAndGlyphs">63</text>
<text x="435.20" y="434.00" font-size="8.6" text-anchor="middle" stroke="#222" stroke-width="0.1" textLength="9.09" lengthAdjust="spacingAndGlyphs">45</text>
<text x="461.00" y="434.00" font-size="8.6" text-anchor="middle" stroke="#222" stroke-width="0.1" textLength="9.09" lengthAdjust="spacingAndGlyphs">15</text>
<text x="488.00" y="434.00" font-size="8.6" text-anchor="middle" stroke="#222" stroke-width="0.1" textLength="4.54" lengthAdjust="spacingAndGlyphs">2</text>
<text x="507.80" y="434.00" font-size="8.6" text-anchor="middle" stroke="#222" stroke-width="0.1" textLength="4.54" lengthAdjust="spacingAndGlyphs">0</text>
<text x="410.00" y="443.80" font-size="8.6" text-anchor="middle" stroke="#222" stroke-width="0.1" textLength="13.63" lengthAdjust="spacingAndGlyphs">127</text>
<text x="435.20" y="443.80" font-size="8.6" text-anchor="middle" stroke="#222" stroke-width="0.1" textLength="13.02" lengthAdjust="spacingAndGlyphs">115</text>
<text x="461.00" y="443.80" font-size="8.6" text-anchor="middle" stroke="#222" stroke-width="0.1" textLength="9.09" lengthAdjust="spacingAndGlyphs">47</text>
<text x="488.00" y="443.80" font-size="8.6" text-anchor="middle" stroke="#222" stroke-width="0.1" textLength="4.54" lengthAdjust="spacingAndGlyphs">8</text>
<text x="507.80" y="443.80" font-size="8.6" text-anchor="middle" stroke="#222" stroke-width="0.1" textLength="4.54" lengthAdjust="spacingAndGlyphs">5</text>
<text x="410.00" y="452.80" font-size="8.6" text-anchor="middle" stroke="#222" stroke-width="0.1" textLength="13.63" lengthAdjust="spacingAndGlyphs">188</text>
<text x="435.20" y="452.80" font-size="8.6" text-anchor="middle" stroke="#222" stroke-width="0.1" textLength="13.63" lengthAdjust="spacingAndGlyphs">156</text>
<text x="461.00" y="452.80" font-size="8.6" text-anchor="middle" stroke="#222" stroke-width="0.1" textLength="9.09" lengthAdjust="spacingAndGlyphs">74</text>
<text x="488.00" y="452.80" font-size="8.6" text-anchor="middle" stroke="#222" stroke-width="0.1" textLength="8.48" lengthAdjust="spacingAndGlyphs">11</text>
<text x="507.80" y="452.80" font-size="8.6" text-anchor="middle" stroke="#222" stroke-width="0.1" textLength="4.54" lengthAdjust="spacingAndGlyphs">2</text>
</svg></body></html>
